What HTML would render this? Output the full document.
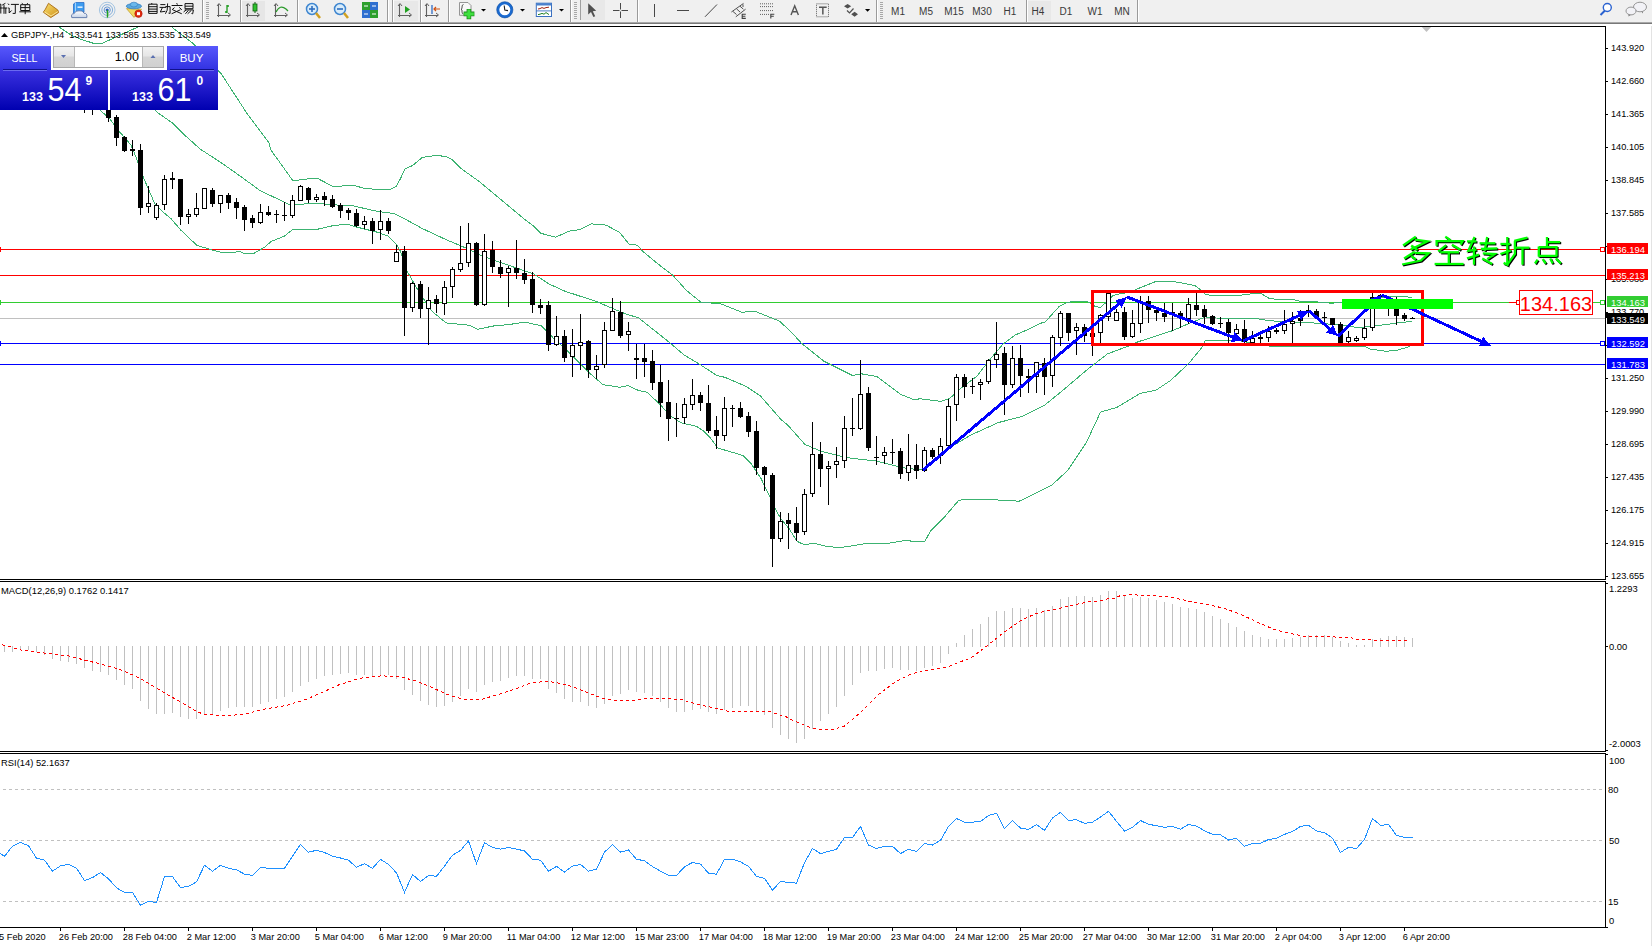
<!DOCTYPE html>
<html><head><meta charset="utf-8"><title>GBPJPY H4</title>
<style>
html,body{margin:0;padding:0;width:1652px;height:946px;overflow:hidden;background:#ffffff;}
svg{display:block;font-family:"Liberation Sans",sans-serif;}
</style></head><body>
<svg width="1652" height="946" viewBox="0 0 1652 946">
<rect x="0" y="0" width="1652" height="946" fill="#ffffff"/>
<g id="toolbar"><rect x="0" y="0" width="1652" height="22" fill="#f0f0f0"/><rect x="0" y="22" width="1652" height="1" fill="#a8a8a8"/><rect x="0" y="23" width="1652" height="1" fill="#787878"/><rect x="0" y="24" width="1652" height="2" fill="#ffffff"/><path d="M0.0,4.0 L1.2,4.6 M0.0,8.0 L2.0,8.0 M0.8,4.5 L0.8,13.5 M5.4,3.3 L2.2,5.1 M4.0,5.1 L4.0,13.8 M2.2,8.0 L7.3,8.0 M5.8,8.0 L5.8,13.8 M8.0,3.6 L9.2,5.0 M8.2,8.0 L9.2,8.0 L9.2,13.0 L11.6,10.5 M10.9,4.4 L18.9,4.4 M15.3,4.4 L15.3,13.4 L12.7,13.4 M21.8,3.3 L23.2,4.4 M28.0,3.3 L26.5,4.4 M20.7,4.7 L29.8,4.7 L29.8,10.5 L20.7,10.5 L20.7,4.7 M20.7,7.6 L29.8,7.6 M25.2,4.7 L25.2,14.2 M19.3,11.8 L30.9,11.8" stroke="#111" stroke-width="1.0" fill="none"/><path d="M152.0,3.0 L151.5,4.2 M148.7,4.2 L157.1,4.2 L157.1,13.4 L148.7,13.4 L148.7,4.2 M148.7,6.7 L157.1,6.7 M148.7,9.1 L157.1,9.1 M148.7,11.4 L157.1,11.4 M160.3,4.6 L165.4,4.6 M159.6,7.4 L166.2,7.4 M162.5,7.4 L160.3,12.0 L165.4,11.3 M165.4,6.6 L170.1,6.6 L170.1,13.4 L168.5,13.1 M167.6,3.4 L167.2,10.2 L165.4,13.8 M176.7,3.1 L177.4,4.7 M171.6,5.5 L182.5,5.5 M174.5,7.6 L172.0,9.8 M179.2,7.3 L181.8,9.8 M172.7,9.8 L181.8,13.8 M180.3,9.8 L171.6,13.8 M185.0,3.6 L193.0,3.6 L193.0,8.7 L185.0,8.7 L185.0,3.6 M185.0,6.2 L193.0,6.2 M184.7,9.9 L193.4,9.9 L192.7,13.8 L191.5,13.5 M186.1,9.9 L183.6,12.0 M188.3,10.5 L185.4,13.8 M191.2,10.5 L187.6,13.8" stroke="#111" stroke-width="1.0" fill="none"/><defs><linearGradient id="gbook" x1="0" y1="0" x2="1" y2="1"><stop offset="0" stop-color="#f8e070"/><stop offset="1" stop-color="#d09018"/></linearGradient><linearGradient id="gcloud" x1="0" y1="0" x2="0" y2="1"><stop offset="0" stop-color="#ffffff"/><stop offset="1" stop-color="#c8d4e8"/></linearGradient></defs><path d="M48.5,3.3 L57.8,10 L58.6,12.6 L50.8,17.6 L43.3,12.2 L45.3,9.3 Z" fill="url(#gbook)" stroke="#a86a12" stroke-width="0.9"/><path d="M44.5,12 L51,16 L58,11.5" fill="none" stroke="#fff0b0" stroke-width="0.8"/><path d="M73.5,4 L75.5,2.5 L84,2.5 L84,12 L73.5,13 Z" fill="#3d9cf0" stroke="#2a6fc8" stroke-width="0.8"/><path d="M75.5,2.5 L75.5,12.5" stroke="#bfe0ff" stroke-width="0.8"/><rect x="77.5" y="6.5" width="5" height="1.3" fill="#ffffff"/><path d="M71.8,17.6 Q70.6,13.6 74.2,13.6 Q75.2,10.3 79,10.8 Q83.2,10 84,13.2 Q87.4,13 86.8,17.6 Z" fill="url(#gcloud)" stroke="#5a74a8" stroke-width="0.9"/><circle cx="107.2" cy="10" r="7.8" fill="none" stroke="#9cc0e0" stroke-width="0.9"/><circle cx="107.2" cy="10" r="5.4" fill="none" stroke="#7aa8d8" stroke-width="0.9"/><circle cx="107.2" cy="10" r="3.1" fill="none" stroke="#5a90d0" stroke-width="0.9"/><path d="M107.2,10 A7.8,7.8 0 0 1 107.2,17.8" fill="none" stroke="#90c890" stroke-width="1.2"/><circle cx="107.2" cy="10" r="1.6" fill="#2a5fc0"/><path d="M107.4,10 L107.4,17.6" stroke="#22a022" stroke-width="1.2"/><path d="M126.5,8.6 L141.5,9.2 L134,17.4 Z" fill="#f2d860" stroke="#c0a030" stroke-width="0.8"/><ellipse cx="133.9" cy="6.2" rx="7.6" ry="2.6" fill="#5aaae0" stroke="#3a80c0" stroke-width="0.8"/><ellipse cx="133.9" cy="4.6" rx="3.6" ry="2.4" fill="#6ab8ec" stroke="#3a80c0" stroke-width="0.7"/><circle cx="138.5" cy="13.7" r="3.7" fill="#e02a10" stroke="#b01808" stroke-width="0.6"/><rect x="137" y="12.2" width="3" height="3" fill="#ffffff"/><rect x="202" y="0" width="1" height="22" fill="#9a9a9a"/><rect x="203" y="0" width="1" height="22" fill="#ffffff"/><rect x="206" y="2" width="3" height="1" fill="#a8a8a8"/><rect x="206" y="4" width="3" height="1" fill="#a8a8a8"/><rect x="206" y="6" width="3" height="1" fill="#a8a8a8"/><rect x="206" y="8" width="3" height="1" fill="#a8a8a8"/><rect x="206" y="10" width="3" height="1" fill="#a8a8a8"/><rect x="206" y="12" width="3" height="1" fill="#a8a8a8"/><rect x="206" y="14" width="3" height="1" fill="#a8a8a8"/><rect x="206" y="16" width="3" height="1" fill="#a8a8a8"/><rect x="206" y="18" width="3" height="1" fill="#a8a8a8"/><path d="M218.5,4 L218.5,17 M217,15.5 L230,15.5" stroke="#606060" stroke-width="1.1" fill="none"/><path d="M217,6 L219,3.5 L221,6 M228,13 L230.5,15 L228,17" stroke="#606060" stroke-width="1" fill="none"/><path d="M227,5 L227,13 M227,6 L229,6 M225,12 L227,12" stroke="#1a9a1a" stroke-width="1.3" fill="none"/><rect x="240" y="0" width="1" height="22" fill="#9a9a9a"/><rect x="241" y="0" width="1" height="22" fill="#ffffff"/><rect x="242" y="1" width="23" height="20" fill="#e6e6e6"/><path d="M247.5,4 L247.5,17 M246,15.5 L259,15.5" stroke="#606060" stroke-width="1.1" fill="none"/><path d="M246,6 L248,3.5 L250,6 M257,13 L259.5,15 L257,17" stroke="#606060" stroke-width="1" fill="none"/><rect x="253" y="4" width="4" height="7" fill="#2ec02e" stroke="#106010" stroke-width="0.8"/><path d="M255,2 L255,4 M255,11 L255,13" stroke="#106010" stroke-width="1"/><path d="M275.5,4 L275.5,17 M274,15.5 L287,15.5" stroke="#606060" stroke-width="1.1" fill="none"/><path d="M274,6 L276,3.5 L278,6 M285,13 L287.5,15 L285,17" stroke="#606060" stroke-width="1" fill="none"/><path d="M276,12 Q280,4 286,9 L288,11" stroke="#2a9a2a" stroke-width="1.3" fill="none"/><rect x="297" y="0" width="1" height="22" fill="#9a9a9a"/><rect x="298" y="0" width="1" height="22" fill="#ffffff"/><circle cx="312" cy="9" r="5.5" fill="#d8ecfa" stroke="#3f86d0" stroke-width="1.5"/><path d="M316,13 L320,18" stroke="#d0a020" stroke-width="2.5"/><path d="M309,9 L315,9" stroke="#2f6fc0" stroke-width="1.6"/><path d="M312,6 L312,12" stroke="#2f6fc0" stroke-width="1.6"/><circle cx="340" cy="9" r="5.5" fill="#d8ecfa" stroke="#3f86d0" stroke-width="1.5"/><path d="M344,13 L348,18" stroke="#d0a020" stroke-width="2.5"/><path d="M337,9 L343,9" stroke="#2f6fc0" stroke-width="1.6"/><rect x="362" y="2" width="8" height="8" fill="#2ea02e"/><rect x="370" y="2" width="8" height="8" fill="#2f6fd0"/><rect x="362" y="10" width="8" height="8" fill="#2f6fd0"/><rect x="370" y="10" width="8" height="8" fill="#2ea02e"/><path d="M364,6 L368,6 M372,6 L376,6 M364,14 L368,14 M372,14 L376,14" stroke="#ffffff" stroke-width="1.2"/><rect x="387" y="0" width="1" height="22" fill="#9a9a9a"/><rect x="388" y="0" width="1" height="22" fill="#ffffff"/><rect x="392" y="0" width="1" height="22" fill="#9a9a9a"/><rect x="393" y="0" width="1" height="22" fill="#ffffff"/><rect x="394" y="1" width="24" height="20" fill="#e8e8e8"/><path d="M399.5,4 L399.5,17 M398,15.5 L411,15.5" stroke="#606060" stroke-width="1.1" fill="none"/><path d="M398,6 L400,3.5 L402,6 M409,13 L411.5,15 L409,17" stroke="#606060" stroke-width="1" fill="none"/><path d="M405,6 L410,9.5 L405,13 Z" fill="#20a020"/><rect x="420" y="0" width="1" height="22" fill="#9a9a9a"/><rect x="421" y="0" width="1" height="22" fill="#ffffff"/><path d="M426.5,4 L426.5,17 M425,15.5 L438,15.5" stroke="#606060" stroke-width="1.1" fill="none"/><path d="M425,6 L427,3.5 L429,6 M436,13 L438.5,15 L436,17" stroke="#606060" stroke-width="1" fill="none"/><path d="M432,5 L432,14" stroke="#2060c0" stroke-width="1.2"/><path d="M440,9 L434,9 M436,7 L434,9 L436,11" stroke="#d05010" stroke-width="1.2" fill="none"/><rect x="448" y="0" width="1" height="22" fill="#9a9a9a"/><rect x="449" y="0" width="1" height="22" fill="#ffffff"/><path d="M459.5,2.5 L468,2.5 L471,5.5 L471,15.3 L459.5,15.3 Z" fill="#f8f8f8" stroke="#8a8a8a" stroke-width="0.9"/><path d="M463.5,4.5 Q462,4.5 462,7 L462,8.5 L461,9.2 L462,10 L462,12 Q462,14 463.5,14" fill="none" stroke="#404040" stroke-width="0.9"/><path d="M468.9,9 L468.9,19.2 M463.6,13.9 L474.4,13.9" stroke="#1c8a1c" stroke-width="4.6"/><path d="M468.9,9.6 L468.9,18.6 M464.2,13.9 L473.8,13.9" stroke="#3ee03e" stroke-width="3"/><path d="M481,9 L486,9 L483.5,11.5 Z" fill="#000"/><circle cx="504.8" cy="9.8" r="6.8" fill="#ffffff" stroke="#1a6ad0" stroke-width="2.6"/><circle cx="504.8" cy="9.8" r="8.1" fill="none" stroke="#0a4aa0" stroke-width="0.6"/><path d="M504.2,5.5 L504.8,10 L508,10.6" stroke="#202020" stroke-width="1.1" fill="none"/><path d="M520,9 L525,9 L522.5,11.5 Z" fill="#000"/><rect x="536.3" y="3.2" width="15.2" height="13.3" fill="#ffffff" stroke="#3a70c0" stroke-width="1"/><rect x="536.3" y="3.2" width="15.2" height="2.3" fill="#4a80cc"/><path d="M536.3,10.9 L551.5,10.9" stroke="#3a70c0" stroke-width="0.9"/><path d="M538,9 L540,8.6 L542,7.6 L544,8.4 L546,7.6 L549,7.2" stroke="#a02010" stroke-width="1" fill="none"/><path d="M538,14.6 L540,14.2 L542,13.4 L544,14.2 L546,12.6 L549,14.6" stroke="#208020" stroke-width="1" fill="none"/><path d="M559,9 L564,9 L561.5,11.5 Z" fill="#000"/><rect x="570" y="0" width="1" height="22" fill="#9a9a9a"/><rect x="571" y="0" width="1" height="22" fill="#ffffff"/><rect x="574" y="2" width="3" height="1" fill="#a8a8a8"/><rect x="574" y="4" width="3" height="1" fill="#a8a8a8"/><rect x="574" y="6" width="3" height="1" fill="#a8a8a8"/><rect x="574" y="8" width="3" height="1" fill="#a8a8a8"/><rect x="574" y="10" width="3" height="1" fill="#a8a8a8"/><rect x="574" y="12" width="3" height="1" fill="#a8a8a8"/><rect x="574" y="14" width="3" height="1" fill="#a8a8a8"/><rect x="574" y="16" width="3" height="1" fill="#a8a8a8"/><rect x="574" y="18" width="3" height="1" fill="#a8a8a8"/><rect x="580" y="0" width="1" height="20" fill="#a0a0a0"/><rect x="581" y="0" width="24" height="20" fill="#e8e8e8"/><path d="M588.2,3.2 L588.2,14.6 L591,12 L593.4,17 L595.2,16.2 L592.8,11.2 L596.2,10.8 Z" fill="#505050"/><path d="M620.5,3 L620.5,9.5 M620.5,11.5 L620.5,18 M613,10.5 L619.5,10.5 M621.5,10.5 L628,10.5" stroke="#484848" stroke-width="1" fill="none"/><rect x="637" y="0" width="1" height="22" fill="#9a9a9a"/><rect x="638" y="0" width="1" height="22" fill="#ffffff"/><path d="M654.5,4 L654.5,17" stroke="#484848" stroke-width="1"/><path d="M677,10.5 L689,10.5" stroke="#484848" stroke-width="1"/><path d="M705,16.8 L717,4.5" stroke="#484848" stroke-width="1"/><path d="M731.4,12 L743.5,3.4 M735.8,16.8 L745.6,9.2" stroke="#505050" stroke-width="1" fill="none"/><path d="M733,11.5 L736.5,14.5 M736.5,8.8 L740,12 M740,6.2 L743.4,9.2 M743,4.4 L743,7" stroke="#505050" stroke-width="1" fill="none"/><path d="M745.8,14.2 L742.2,14.2 L742.2,18.4 L745.8,18.4 M742.2,16.3 L745.4,16.3" stroke="#404040" stroke-width="1.1" fill="none"/><path d="M760,3.8 L773,3.8 M760,6.6 L773,6.6 M760,10.6 L773,10.6 M760,14.4 L769,14.4" stroke="#606060" stroke-width="1" stroke-dasharray="1,1" fill="none"/><path d="M774.3,14.2 L770.8,14.2 L770.8,18.6 M770.8,16.3 L773.8,16.3" stroke="#404040" stroke-width="1.1" fill="none"/><path d="M791,15 L794.7,5.8 L798.4,15 M792.4,11.8 L797,11.8" stroke="#555555" stroke-width="1.4" fill="none"/><rect x="816.5" y="3.8" width="12" height="13" fill="none" stroke="#606060" stroke-width="1" stroke-dasharray="1,1"/><path d="M819,7.3 L826.7,7.3 M822.85,7.3 L822.85,14.5" stroke="#555555" stroke-width="1.5" fill="none"/><path d="M844,6.3 L847.6,4 L851.2,6.3 L847.6,8.6 Z M851.2,14.3 L854.6,11.8 L858,14.3 L854.6,16.8 Z" fill="#505050"/><path d="M847,10.5 L849.5,13 L853.5,8.5" stroke="#505050" stroke-width="1.2" fill="none"/><path d="M865,9 L870.2,9 L867.6,11.8 Z" fill="#000"/><rect x="876" y="0" width="1" height="22" fill="#9a9a9a"/><rect x="877" y="0" width="1" height="22" fill="#ffffff"/><rect x="880" y="2" width="3" height="1" fill="#a8a8a8"/><rect x="880" y="4" width="3" height="1" fill="#a8a8a8"/><rect x="880" y="6" width="3" height="1" fill="#a8a8a8"/><rect x="880" y="8" width="3" height="1" fill="#a8a8a8"/><rect x="880" y="10" width="3" height="1" fill="#a8a8a8"/><rect x="880" y="12" width="3" height="1" fill="#a8a8a8"/><rect x="880" y="14" width="3" height="1" fill="#a8a8a8"/><rect x="880" y="16" width="3" height="1" fill="#a8a8a8"/><rect x="880" y="18" width="3" height="1" fill="#a8a8a8"/><rect x="1026" y="0" width="1" height="22" fill="#9a9a9a"/><rect x="1027" y="0" width="1" height="22" fill="#ffffff"/><rect x="1028" y="1" width="23" height="20" fill="#e8e8e8"/><text x="898" y="15" font-size="10" fill="#3a3a3a" text-anchor="middle" font-family="Liberation Sans">M1</text><text x="926" y="15" font-size="10" fill="#3a3a3a" text-anchor="middle" font-family="Liberation Sans">M5</text><text x="954" y="15" font-size="10" fill="#3a3a3a" text-anchor="middle" font-family="Liberation Sans">M15</text><text x="982" y="15" font-size="10" fill="#3a3a3a" text-anchor="middle" font-family="Liberation Sans">M30</text><text x="1010" y="15" font-size="10" fill="#3a3a3a" text-anchor="middle" font-family="Liberation Sans">H1</text><text x="1038" y="15" font-size="10" fill="#3a3a3a" text-anchor="middle" font-family="Liberation Sans">H4</text><text x="1066" y="15" font-size="10" fill="#3a3a3a" text-anchor="middle" font-family="Liberation Sans">D1</text><text x="1095" y="15" font-size="10" fill="#3a3a3a" text-anchor="middle" font-family="Liberation Sans">W1</text><text x="1122" y="15" font-size="10" fill="#3a3a3a" text-anchor="middle" font-family="Liberation Sans">MN</text><rect x="1137" y="0" width="1" height="22" fill="#9a9a9a"/><rect x="1138" y="0" width="1" height="22" fill="#ffffff"/><circle cx="1607.3" cy="7.5" r="4" fill="#ffffff" stroke="#2a62d0" stroke-width="1.4"/><path d="M1605,10.5 L1600.5,15" stroke="#2a62d0" stroke-width="2"/><path d="M1641,11 L1643,13.5 L1643,10" fill="#707070"/><ellipse cx="1640" cy="7" rx="6.5" ry="4.8" fill="#f2f2f6" stroke="#8a8a8a" stroke-width="0.9"/><path d="M1628.5,13 L1628.5,16.5 L1632,14" fill="#707070"/><ellipse cx="1631" cy="11" rx="5" ry="3.9" fill="#f2f2f6" stroke="#8a8a8a" stroke-width="0.9"/></g>
<g id="frames" shape-rendering="crispEdges"><rect x="0" y="26" width="1606" height="1" fill="#000"/><rect x="1605" y="26" width="1" height="554" fill="#000"/><rect x="0" y="579" width="1606" height="1" fill="#000"/><rect x="0" y="581" width="1606" height="1" fill="#000"/><rect x="1605" y="581" width="1" height="171" fill="#000"/><rect x="0" y="751" width="1606" height="1" fill="#000"/><rect x="0" y="753" width="1606" height="1" fill="#000"/><rect x="1605" y="753" width="1" height="175" fill="#000"/><rect x="0" y="927" width="1606" height="1" fill="#000"/><rect x="1651" y="26" width="1" height="920" fill="#e3e3e3"/><rect x="1606" y="48" width="2" height="1" fill="#000"/><text x="1611" y="51" font-size="9.2" fill="#000">143.920</text><rect x="1606" y="81" width="2" height="1" fill="#000"/><text x="1611" y="84" font-size="9.2" fill="#000">142.660</text><rect x="1606" y="114" width="2" height="1" fill="#000"/><text x="1611" y="117" font-size="9.2" fill="#000">141.365</text><rect x="1606" y="147" width="2" height="1" fill="#000"/><text x="1611" y="150" font-size="9.2" fill="#000">140.105</text><rect x="1606" y="180" width="2" height="1" fill="#000"/><text x="1611" y="183" font-size="9.2" fill="#000">138.845</text><rect x="1606" y="213" width="2" height="1" fill="#000"/><text x="1611" y="216" font-size="9.2" fill="#000">137.585</text><rect x="1606" y="246" width="2" height="1" fill="#000"/><text x="1611" y="249" font-size="9.2" fill="#000">136.325</text><rect x="1606" y="279" width="2" height="1" fill="#000"/><text x="1611" y="282" font-size="9.2" fill="#000">135.030</text><rect x="1606" y="312" width="2" height="1" fill="#000"/><text x="1611" y="315" font-size="9.2" fill="#000">133.770</text><rect x="1606" y="345" width="2" height="1" fill="#000"/><text x="1611" y="348" font-size="9.2" fill="#000">132.510</text><rect x="1606" y="378" width="2" height="1" fill="#000"/><text x="1611" y="381" font-size="9.2" fill="#000">131.250</text><rect x="1606" y="411" width="2" height="1" fill="#000"/><text x="1611" y="414" font-size="9.2" fill="#000">129.990</text><rect x="1606" y="444" width="2" height="1" fill="#000"/><text x="1611" y="447" font-size="9.2" fill="#000">128.695</text><rect x="1606" y="477" width="2" height="1" fill="#000"/><text x="1611" y="480" font-size="9.2" fill="#000">127.435</text><rect x="1606" y="510" width="2" height="1" fill="#000"/><text x="1611" y="513" font-size="9.2" fill="#000">126.175</text><rect x="1606" y="543" width="2" height="1" fill="#000"/><text x="1611" y="546" font-size="9.2" fill="#000">124.915</text><rect x="1606" y="576" width="2" height="1" fill="#000"/><text x="1611" y="579" font-size="9.2" fill="#000">123.655</text><rect x="1606" y="583" width="2" height="1" fill="#000"/><text x="1609" y="591.5" font-size="9.4" fill="#000">1.2293</text><rect x="1606" y="646" width="2" height="1" fill="#000"/><text x="1609" y="649.5" font-size="9.4" fill="#000">0.00</text><rect x="1606" y="750" width="2" height="1" fill="#000"/><text x="1609" y="746.5" font-size="9.4" fill="#000">-2.0003</text><rect x="1606" y="754" width="2" height="1" fill="#000"/><text x="1609" y="763.5" font-size="9.4" fill="#000">100</text><text x="1608" y="792.5" font-size="9.4" fill="#000">80</text><text x="1609" y="844" font-size="9.4" fill="#000">50</text><text x="1608" y="904.5" font-size="9.4" fill="#000">15</text><text x="1609" y="923.5" font-size="9.4" fill="#000">0</text><rect x="1606" y="927" width="2" height="1" fill="#000"/><text x="-6" y="940" font-size="9.2" fill="#000">25 Feb 2020</text><rect x="60" y="928" width="1" height="3" fill="#000"/><text x="58.8" y="940" font-size="9.2" fill="#000">26 Feb 20:00</text><rect x="124" y="928" width="1" height="3" fill="#000"/><text x="122.8" y="940" font-size="9.2" fill="#000">28 Feb 04:00</text><rect x="188" y="928" width="1" height="3" fill="#000"/><text x="186.8" y="940" font-size="9.2" fill="#000">2 Mar 12:00</text><rect x="252" y="928" width="1" height="3" fill="#000"/><text x="250.8" y="940" font-size="9.2" fill="#000">3 Mar 20:00</text><rect x="316" y="928" width="1" height="3" fill="#000"/><text x="314.8" y="940" font-size="9.2" fill="#000">5 Mar 04:00</text><rect x="380" y="928" width="1" height="3" fill="#000"/><text x="378.8" y="940" font-size="9.2" fill="#000">6 Mar 12:00</text><rect x="444" y="928" width="1" height="3" fill="#000"/><text x="442.8" y="940" font-size="9.2" fill="#000">9 Mar 20:00</text><rect x="508" y="928" width="1" height="3" fill="#000"/><text x="506.8" y="940" font-size="9.2" fill="#000">11 Mar 04:00</text><rect x="572" y="928" width="1" height="3" fill="#000"/><text x="570.8" y="940" font-size="9.2" fill="#000">12 Mar 12:00</text><rect x="636" y="928" width="1" height="3" fill="#000"/><text x="634.8" y="940" font-size="9.2" fill="#000">15 Mar 23:00</text><rect x="700" y="928" width="1" height="3" fill="#000"/><text x="698.8" y="940" font-size="9.2" fill="#000">17 Mar 04:00</text><rect x="764" y="928" width="1" height="3" fill="#000"/><text x="762.8" y="940" font-size="9.2" fill="#000">18 Mar 12:00</text><rect x="828" y="928" width="1" height="3" fill="#000"/><text x="826.8" y="940" font-size="9.2" fill="#000">19 Mar 20:00</text><rect x="892" y="928" width="1" height="3" fill="#000"/><text x="890.8" y="940" font-size="9.2" fill="#000">23 Mar 04:00</text><rect x="956" y="928" width="1" height="3" fill="#000"/><text x="954.8" y="940" font-size="9.2" fill="#000">24 Mar 12:00</text><rect x="1020" y="928" width="1" height="3" fill="#000"/><text x="1018.8" y="940" font-size="9.2" fill="#000">25 Mar 20:00</text><rect x="1084" y="928" width="1" height="3" fill="#000"/><text x="1082.8" y="940" font-size="9.2" fill="#000">27 Mar 04:00</text><rect x="1148" y="928" width="1" height="3" fill="#000"/><text x="1146.8" y="940" font-size="9.2" fill="#000">30 Mar 12:00</text><rect x="1212" y="928" width="1" height="3" fill="#000"/><text x="1210.8" y="940" font-size="9.2" fill="#000">31 Mar 20:00</text><rect x="1276" y="928" width="1" height="3" fill="#000"/><text x="1274.8" y="940" font-size="9.2" fill="#000">2 Apr 04:00</text><rect x="1340" y="928" width="1" height="3" fill="#000"/><text x="1338.8" y="940" font-size="9.2" fill="#000">3 Apr 12:00</text><rect x="1404" y="928" width="1" height="3" fill="#000"/><text x="1402.8" y="940" font-size="9.2" fill="#000">6 Apr 20:00</text></g>
<g id="macd"><text x="1" y="594" font-size="9.4" fill="#000">MACD(12,26,9) 0.1762 0.1417</text><rect x="4" y="646" width="1" height="6" fill="#c0c0c0"/><rect x="12" y="646" width="1" height="6" fill="#c0c0c0"/><rect x="20" y="646" width="1" height="4" fill="#c0c0c0"/><rect x="28" y="646" width="1" height="4" fill="#c0c0c0"/><rect x="36" y="646" width="1" height="6" fill="#c0c0c0"/><rect x="44" y="646" width="1" height="9" fill="#c0c0c0"/><rect x="52" y="646" width="1" height="13" fill="#c0c0c0"/><rect x="60" y="646" width="1" height="15" fill="#c0c0c0"/><rect x="68" y="646" width="1" height="16" fill="#c0c0c0"/><rect x="76" y="646" width="1" height="18" fill="#c0c0c0"/><rect x="84" y="646" width="1" height="22" fill="#c0c0c0"/><rect x="92" y="646" width="1" height="25" fill="#c0c0c0"/><rect x="100" y="646" width="1" height="26" fill="#c0c0c0"/><rect x="108" y="646" width="1" height="29" fill="#c0c0c0"/><rect x="116" y="646" width="1" height="34" fill="#c0c0c0"/><rect x="124" y="646" width="1" height="39" fill="#c0c0c0"/><rect x="132" y="646" width="1" height="43" fill="#c0c0c0"/><rect x="140" y="646" width="1" height="55" fill="#c0c0c0"/><rect x="148" y="646" width="1" height="63" fill="#c0c0c0"/><rect x="156" y="646" width="1" height="68" fill="#c0c0c0"/><rect x="164" y="646" width="1" height="68" fill="#c0c0c0"/><rect x="172" y="646" width="1" height="67" fill="#c0c0c0"/><rect x="180" y="646" width="1" height="71" fill="#c0c0c0"/><rect x="188" y="646" width="1" height="73" fill="#c0c0c0"/><rect x="196" y="646" width="1" height="73" fill="#c0c0c0"/><rect x="204" y="646" width="1" height="68" fill="#c0c0c0"/><rect x="212" y="646" width="1" height="68" fill="#c0c0c0"/><rect x="220" y="646" width="1" height="65" fill="#c0c0c0"/><rect x="228" y="646" width="1" height="62" fill="#c0c0c0"/><rect x="236" y="646" width="1" height="61" fill="#c0c0c0"/><rect x="244" y="646" width="1" height="61" fill="#c0c0c0"/><rect x="252" y="646" width="1" height="61" fill="#c0c0c0"/><rect x="260" y="646" width="1" height="58" fill="#c0c0c0"/><rect x="268" y="646" width="1" height="56" fill="#c0c0c0"/><rect x="276" y="646" width="1" height="53" fill="#c0c0c0"/><rect x="284" y="646" width="1" height="51" fill="#c0c0c0"/><rect x="292" y="646" width="1" height="46" fill="#c0c0c0"/><rect x="300" y="646" width="1" height="40" fill="#c0c0c0"/><rect x="308" y="646" width="1" height="36" fill="#c0c0c0"/><rect x="316" y="646" width="1" height="33" fill="#c0c0c0"/><rect x="324" y="646" width="1" height="30" fill="#c0c0c0"/><rect x="332" y="646" width="1" height="29" fill="#c0c0c0"/><rect x="340" y="646" width="1" height="28" fill="#c0c0c0"/><rect x="348" y="646" width="1" height="27" fill="#c0c0c0"/><rect x="356" y="646" width="1" height="29" fill="#c0c0c0"/><rect x="364" y="646" width="1" height="29" fill="#c0c0c0"/><rect x="372" y="646" width="1" height="30" fill="#c0c0c0"/><rect x="380" y="646" width="1" height="29" fill="#c0c0c0"/><rect x="388" y="646" width="1" height="29" fill="#c0c0c0"/><rect x="396" y="646" width="1" height="33" fill="#c0c0c0"/><rect x="404" y="646" width="1" height="44" fill="#c0c0c0"/><rect x="412" y="646" width="1" height="49" fill="#c0c0c0"/><rect x="420" y="646" width="1" height="55" fill="#c0c0c0"/><rect x="428" y="646" width="1" height="59" fill="#c0c0c0"/><rect x="436" y="646" width="1" height="61" fill="#c0c0c0"/><rect x="444" y="646" width="1" height="60" fill="#c0c0c0"/><rect x="452" y="646" width="1" height="56" fill="#c0c0c0"/><rect x="460" y="646" width="1" height="50" fill="#c0c0c0"/><rect x="468" y="646" width="1" height="43" fill="#c0c0c0"/><rect x="476" y="646" width="1" height="46" fill="#c0c0c0"/><rect x="484" y="646" width="1" height="39" fill="#c0c0c0"/><rect x="492" y="646" width="1" height="36" fill="#c0c0c0"/><rect x="500" y="646" width="1" height="35" fill="#c0c0c0"/><rect x="508" y="646" width="1" height="32" fill="#c0c0c0"/><rect x="516" y="646" width="1" height="30" fill="#c0c0c0"/><rect x="524" y="646" width="1" height="30" fill="#c0c0c0"/><rect x="532" y="646" width="1" height="33" fill="#c0c0c0"/><rect x="540" y="646" width="1" height="33" fill="#c0c0c0"/><rect x="548" y="646" width="1" height="43" fill="#c0c0c0"/><rect x="556" y="646" width="1" height="47" fill="#c0c0c0"/><rect x="564" y="646" width="1" height="53" fill="#c0c0c0"/><rect x="572" y="646" width="1" height="56" fill="#c0c0c0"/><rect x="580" y="646" width="1" height="56" fill="#c0c0c0"/><rect x="588" y="646" width="1" height="60" fill="#c0c0c0"/><rect x="596" y="646" width="1" height="62" fill="#c0c0c0"/><rect x="604" y="646" width="1" height="58" fill="#c0c0c0"/><rect x="612" y="646" width="1" height="50" fill="#c0c0c0"/><rect x="620" y="646" width="1" height="48" fill="#c0c0c0"/><rect x="628" y="646" width="1" height="44" fill="#c0c0c0"/><rect x="636" y="646" width="1" height="46" fill="#c0c0c0"/><rect x="644" y="646" width="1" height="47" fill="#c0c0c0"/><rect x="652" y="646" width="1" height="50" fill="#c0c0c0"/><rect x="660" y="646" width="1" height="56" fill="#c0c0c0"/><rect x="668" y="646" width="1" height="62" fill="#c0c0c0"/><rect x="676" y="646" width="1" height="66" fill="#c0c0c0"/><rect x="684" y="646" width="1" height="66" fill="#c0c0c0"/><rect x="692" y="646" width="1" height="64" fill="#c0c0c0"/><rect x="700" y="646" width="1" height="63" fill="#c0c0c0"/><rect x="708" y="646" width="1" height="66" fill="#c0c0c0"/><rect x="716" y="646" width="1" height="68" fill="#c0c0c0"/><rect x="724" y="646" width="1" height="64" fill="#c0c0c0"/><rect x="732" y="646" width="1" height="62" fill="#c0c0c0"/><rect x="740" y="646" width="1" height="60" fill="#c0c0c0"/><rect x="748" y="646" width="1" height="60" fill="#c0c0c0"/><rect x="756" y="646" width="1" height="65" fill="#c0c0c0"/><rect x="764" y="646" width="1" height="69" fill="#c0c0c0"/><rect x="772" y="646" width="1" height="82" fill="#c0c0c0"/><rect x="780" y="646" width="1" height="89" fill="#c0c0c0"/><rect x="788" y="646" width="1" height="93" fill="#c0c0c0"/><rect x="796" y="646" width="1" height="97" fill="#c0c0c0"/><rect x="804" y="646" width="1" height="93" fill="#c0c0c0"/><rect x="812" y="646" width="1" height="83" fill="#c0c0c0"/><rect x="820" y="646" width="1" height="75" fill="#c0c0c0"/><rect x="828" y="646" width="1" height="68" fill="#c0c0c0"/><rect x="836" y="646" width="1" height="61" fill="#c0c0c0"/><rect x="844" y="646" width="1" height="50" fill="#c0c0c0"/><rect x="852" y="646" width="1" height="39" fill="#c0c0c0"/><rect x="860" y="646" width="1" height="27" fill="#c0c0c0"/><rect x="868" y="646" width="1" height="25" fill="#c0c0c0"/><rect x="876" y="646" width="1" height="25" fill="#c0c0c0"/><rect x="884" y="646" width="1" height="23" fill="#c0c0c0"/><rect x="892" y="646" width="1" height="22" fill="#c0c0c0"/><rect x="900" y="646" width="1" height="24" fill="#c0c0c0"/><rect x="908" y="646" width="1" height="24" fill="#c0c0c0"/><rect x="916" y="646" width="1" height="25" fill="#c0c0c0"/><rect x="924" y="646" width="1" height="22" fill="#c0c0c0"/><rect x="932" y="646" width="1" height="20" fill="#c0c0c0"/><rect x="940" y="646" width="1" height="17" fill="#c0c0c0"/><rect x="948" y="646" width="1" height="8" fill="#c0c0c0"/><rect x="956" y="643" width="1" height="4" fill="#c0c0c0"/><rect x="964" y="635" width="1" height="12" fill="#c0c0c0"/><rect x="972" y="629" width="1" height="18" fill="#c0c0c0"/><rect x="980" y="624" width="1" height="23" fill="#c0c0c0"/><rect x="988" y="617" width="1" height="30" fill="#c0c0c0"/><rect x="996" y="611" width="1" height="36" fill="#c0c0c0"/><rect x="1004" y="611" width="1" height="36" fill="#c0c0c0"/><rect x="1012" y="608" width="1" height="39" fill="#c0c0c0"/><rect x="1020" y="608" width="1" height="39" fill="#c0c0c0"/><rect x="1028" y="609" width="1" height="38" fill="#c0c0c0"/><rect x="1036" y="608" width="1" height="39" fill="#c0c0c0"/><rect x="1044" y="610" width="1" height="37" fill="#c0c0c0"/><rect x="1052" y="606" width="1" height="41" fill="#c0c0c0"/><rect x="1060" y="599" width="1" height="48" fill="#c0c0c0"/><rect x="1068" y="597" width="1" height="50" fill="#c0c0c0"/><rect x="1076" y="596" width="1" height="51" fill="#c0c0c0"/><rect x="1084" y="596" width="1" height="51" fill="#c0c0c0"/><rect x="1092" y="597" width="1" height="50" fill="#c0c0c0"/><rect x="1100" y="595" width="1" height="52" fill="#c0c0c0"/><rect x="1108" y="591" width="1" height="56" fill="#c0c0c0"/><rect x="1116" y="591" width="1" height="56" fill="#c0c0c0"/><rect x="1124" y="596" width="1" height="51" fill="#c0c0c0"/><rect x="1132" y="598" width="1" height="49" fill="#c0c0c0"/><rect x="1140" y="597" width="1" height="50" fill="#c0c0c0"/><rect x="1148" y="598" width="1" height="49" fill="#c0c0c0"/><rect x="1156" y="600" width="1" height="47" fill="#c0c0c0"/><rect x="1164" y="602" width="1" height="45" fill="#c0c0c0"/><rect x="1172" y="604" width="1" height="43" fill="#c0c0c0"/><rect x="1180" y="607" width="1" height="40" fill="#c0c0c0"/><rect x="1188" y="608" width="1" height="39" fill="#c0c0c0"/><rect x="1196" y="609" width="1" height="38" fill="#c0c0c0"/><rect x="1204" y="612" width="1" height="35" fill="#c0c0c0"/><rect x="1212" y="616" width="1" height="31" fill="#c0c0c0"/><rect x="1220" y="619" width="1" height="28" fill="#c0c0c0"/><rect x="1228" y="623" width="1" height="24" fill="#c0c0c0"/><rect x="1236" y="627" width="1" height="20" fill="#c0c0c0"/><rect x="1244" y="631" width="1" height="16" fill="#c0c0c0"/><rect x="1252" y="635" width="1" height="12" fill="#c0c0c0"/><rect x="1260" y="637" width="1" height="10" fill="#c0c0c0"/><rect x="1268" y="639" width="1" height="8" fill="#c0c0c0"/><rect x="1276" y="639" width="1" height="8" fill="#c0c0c0"/><rect x="1284" y="639" width="1" height="8" fill="#c0c0c0"/><rect x="1292" y="638" width="1" height="9" fill="#c0c0c0"/><rect x="1300" y="637" width="1" height="10" fill="#c0c0c0"/><rect x="1308" y="635" width="1" height="12" fill="#c0c0c0"/><rect x="1316" y="635" width="1" height="12" fill="#c0c0c0"/><rect x="1324" y="635" width="1" height="12" fill="#c0c0c0"/><rect x="1332" y="637" width="1" height="10" fill="#c0c0c0"/><rect x="1340" y="641" width="1" height="6" fill="#c0c0c0"/><rect x="1348" y="643" width="1" height="4" fill="#c0c0c0"/><rect x="1356" y="645" width="1" height="2" fill="#c0c0c0"/><rect x="1364" y="645" width="1" height="2" fill="#c0c0c0"/><rect x="1372" y="639" width="1" height="8" fill="#c0c0c0"/><rect x="1380" y="638" width="1" height="9" fill="#c0c0c0"/><rect x="1388" y="636" width="1" height="11" fill="#c0c0c0"/><rect x="1396" y="636" width="1" height="11" fill="#c0c0c0"/><rect x="1404" y="637" width="1" height="10" fill="#c0c0c0"/><rect x="1412" y="638" width="1" height="9" fill="#c0c0c0"/><polyline points="2.2,644.9 10.7,646.9 20.8,650.0 34.4,651.7 51.3,653.9 68.3,655.9 85.2,660.2 102.2,664.4 117.4,668.6 136.1,676.3 148.0,683.0 161.5,691.2 178.5,700.8 195.4,711.0 203.9,714.4 229.3,715.8 246.3,713.6 263.2,709.3 280.5,706.4 287.4,705.1 304.4,700.0 321.3,692.9 338.3,685.1 355.2,679.7 363.7,677.6 380.7,675.9 397.6,676.3 414.6,680.5 431.5,687.3 448.5,694.9 465.4,699.7 482.4,699.1 499.3,694.1 516.3,688.5 533.2,682.2 550.5,681.7 562.5,683.9 574.4,687.3 591.3,694.1 604.9,699.1 616.8,700.8 628.6,700.8 642.2,699.1 659.1,698.0 682.9,700.0 693.0,703.0 701.5,705.1 718.5,709.0 730.3,711.9 743.9,711.0 767.6,711.0 777.8,714.4 786.3,716.9 794.7,721.2 803.2,724.6 811.7,728.0 820.5,729.7 832.5,729.5 844.4,726.1 861.3,711.7 878.3,694.7 895.2,682.0 912.2,673.6 929.1,670.2 946.1,667.6 963.0,660.8 971.5,657.5 988.5,644.7 1005.4,631.2 1022.4,619.3 1039.3,612.5 1056.3,609.1 1073.2,604.9 1090.5,601.5 1100.8,600.8 1107.6,598.7 1114.4,598.2 1119.5,596.0 1131.3,594.8 1156.8,595.7 1173.7,597.7 1190.7,601.6 1207.6,604.5 1224.6,608.4 1241.5,614.7 1258.5,622.8 1275.4,629.9 1292.4,633.8 1305.6,636.8 1334.4,636.9 1340.3,637.8 1351.3,637.8 1354.7,639.1 1366.6,639.1 1371.7,640.0 1409.8,640.0" fill="none" stroke="#ff0000" stroke-width="1" stroke-dasharray="3,3" shape-rendering="crispEdges"/></g>
<g id="rsi"><text x="1" y="766" font-size="9.4" fill="#000">RSI(14) 52.1637</text><path d="M3,789.5 L1605,789.5" stroke="#c0c0c0" stroke-width="1" stroke-dasharray="3,3" shape-rendering="crispEdges"/><path d="M3,840.5 L1605,840.5" stroke="#c0c0c0" stroke-width="1" stroke-dasharray="3,3" shape-rendering="crispEdges"/><path d="M3,901.5 L1605,901.5" stroke="#c0c0c0" stroke-width="1" stroke-dasharray="3,3" shape-rendering="crispEdges"/><polyline points="-3.5,851.0 4.5,856.3 12.5,846.1 20.5,842.4 28.5,845.8 36.5,858.1 44.5,860.2 52.5,871.2 60.5,865.8 68.5,864.4 76.5,868.1 84.5,880.5 92.5,877.6 100.5,872.5 108.5,878.8 116.5,887.8 124.5,892.4 132.5,892.4 140.5,905.4 148.5,901.4 156.5,902.5 164.5,876.6 172.5,876.6 180.5,887.6 188.5,886.4 196.5,881.9 204.5,865.3 212.5,871.2 220.5,865.3 228.5,868.3 236.5,869.8 244.5,874.1 252.5,875.4 260.5,867.5 268.5,868.3 276.5,868.3 284.5,868.3 292.5,856.3 300.5,844.4 308.5,852.2 316.5,850.3 324.5,852.5 332.5,856.3 340.5,858.0 348.5,860.2 356.5,867.3 364.5,863.6 372.5,868.3 380.5,859.3 388.5,864.4 396.5,872.9 404.5,892.4 412.5,874.6 420.5,881.4 428.5,875.4 436.5,876.3 444.5,866.1 452.5,855.1 460.5,850.5 468.5,841.0 476.5,863.6 484.5,842.7 492.5,847.5 500.5,849.2 508.5,847.5 516.5,849.2 524.5,850.8 532.5,859.3 540.5,860.2 548.5,871.2 556.5,866.4 564.5,872.0 572.5,866.1 580.5,864.4 588.5,871.2 596.5,869.2 604.5,852.2 612.5,844.4 620.5,852.2 628.5,850.0 636.5,859.3 644.5,860.7 652.5,866.6 660.5,871.2 668.5,875.4 676.5,875.4 684.5,866.9 692.5,862.4 700.5,864.1 708.5,873.2 716.5,874.2 724.5,859.3 732.5,859.3 740.5,861.9 748.5,866.4 756.5,876.3 764.5,878.3 772.5,890.3 780.5,881.4 788.5,882.5 796.5,883.1 804.5,862.7 812.5,848.5 820.5,853.6 828.5,851.4 836.5,849.3 844.5,837.5 852.5,837.5 860.5,826.4 868.5,845.1 876.5,848.5 884.5,846.3 892.5,846.3 900.5,853.6 908.5,849.3 916.5,851.4 924.5,843.4 932.5,845.1 940.5,840.3 948.5,826.4 956.5,818.5 964.5,822.2 972.5,822.2 980.5,821.4 988.5,815.4 996.5,813.4 1004.5,828.6 1012.5,820.5 1020.5,828.1 1028.5,829.5 1036.5,824.7 1044.5,830.3 1052.5,818.0 1060.5,812.4 1068.5,820.5 1076.5,819.7 1084.5,823.4 1092.5,822.2 1100.5,817.1 1108.5,811.2 1116.5,821.4 1124.5,831.0 1132.5,827.3 1140.5,820.5 1148.5,824.4 1156.5,825.6 1164.5,827.3 1172.5,826.4 1180.5,829.3 1188.5,824.4 1196.5,826.1 1204.5,830.7 1212.5,834.4 1220.5,834.9 1228.5,840.0 1236.5,838.3 1244.5,846.3 1252.5,843.4 1260.5,843.4 1268.5,839.5 1276.5,838.3 1284.5,834.4 1292.5,831.5 1300.5,826.4 1308.5,825.3 1316.5,831.0 1324.5,832.7 1332.5,838.1 1340.5,852.5 1348.5,847.3 1356.5,848.5 1364.5,839.4 1372.5,818.5 1380.5,825.4 1388.5,824.4 1396.5,835.4 1404.5,837.3 1412.5,837.3" fill="none" stroke="#1e90ff" stroke-width="1" shape-rendering="crispEdges"/></g>
<defs><clipPath id="cmain"><rect x="0" y="27" width="1605" height="552"/></clipPath></defs><g id="main" clip-path="url(#cmain)"><rect x="0" y="249" width="1605" height="1" fill="#ff0000"/><rect x="0" y="247" width="1" height="5" fill="#ff0000"/><rect x="1600" y="247" width="5" height="5" fill="#ff0000"/><rect x="1601" y="248" width="3" height="3" fill="#ffffff"/><rect x="0" y="275" width="1605" height="1" fill="#ff0000"/><rect x="0" y="302" width="1605" height="1" fill="#32cd32"/><rect x="0" y="300" width="1" height="5" fill="#32cd32"/><rect x="1600" y="300" width="5" height="5" fill="#32cd32"/><rect x="1601" y="301" width="3" height="3" fill="#ffffff"/><rect x="0" y="318" width="1605" height="1" fill="#c0c0c0"/><rect x="0" y="343" width="1605" height="1" fill="#0000ff"/><rect x="0" y="341" width="1" height="5" fill="#0000ff"/><rect x="1600" y="341" width="5" height="5" fill="#0000ff"/><rect x="1601" y="342" width="3" height="3" fill="#ffffff"/><rect x="0" y="364" width="1605" height="1" fill="#0000ff"/><polyline points="58.7,26.7 70.8,34.9 80.5,39.1 93.8,43.4 102.2,43.4 118.0,36.1 138.5,26.7 154.5,10.0 171.3,26.7 193.0,43.4 221.1,73.6 247.5,114.2 268.8,142.5 270.9,150.0 293.1,181.0 302.0,179.4 317.2,178.2 333.0,186.5 354.0,185.3 364.1,188.4 380.5,189.6 390.7,189.3 396.5,186.0 400.5,178.5 405.1,169.0 412.7,165.4 422.3,157.5 435.0,155.5 445.2,156.3 452.2,159.7 461.7,169.0 479.5,181.7 504.9,202.9 525.2,219.8 534.1,226.4 541.1,233.4 555.7,237.2 568.5,231.3 579.9,229.6 591.3,223.9 606.0,225.1 619.4,232.2 629.3,244.4 637.1,245.1 643.8,252.2 657.1,263.3 672.6,275.0 685.9,289.9 701.5,302.8 719.2,303.2 741.5,312.1 755.9,311.7 768.1,316.5 779.2,321.0 790.3,331.0 801.4,343.2 823.6,361.0 852.4,375.4 861.3,373.8 876.8,376.5 900.4,394.2 902.5,395.1 913.6,399.5 920.5,398.8 940.7,401.4 949.7,398.4 960.8,388.4 976.8,376.3 990.9,358.2 1002.9,344.2 1015.0,335.1 1029.0,329.1 1040.5,323.3 1045.3,321.9 1059.5,306.1 1066.2,302.8 1073.8,301.4 1086.2,301.4 1090.9,303.3 1094.7,306.1 1100.5,307.6 1107.1,301.4 1112.8,295.7 1121.4,293.3 1128.0,292.8 1140.5,287.6 1156.3,281.3 1172.7,281.3 1194.5,285.4 1199.9,289.2 1205.4,294.1 1210.8,295.5 1238.0,295.5 1255.5,293.3 1260.9,293.5 1268.6,298.1 1275.1,299.2 1293.6,299.5 1299.1,301.1 1313.2,301.5 1331.8,303.3 1390.6,296.8 1397.1,296.2 1412.4,297.3" fill="none" stroke="#3cb371" stroke-width="1" shape-rendering="crispEdges"/><polyline points="140.5,95.0 156.7,112.0 172.8,123.3 184.0,134.5 200.1,149.0 221.0,162.6 240.5,176.3 260.1,190.6 289.3,204.5 296.9,204.5 314.5,203.3 340.0,205.2 352.7,205.8 378.1,211.5 393.3,213.4 400.5,216.6 406.4,219.8 422.2,228.5 446.0,239.6 465.0,247.6 479.3,254.7 498.3,261.8 533.2,273.7 549.1,284.0 564.9,291.2 590.5,299.6 596.3,301.5 625.1,313.7 638.6,317.9 667.3,340.7 684.3,355.1 701.2,365.3 716.6,375.3 725.1,377.4 746.2,386.4 760.5,396.0 781.4,420.0 787.1,424.4 804.9,444.4 820.4,451.0 847.0,457.7 875.9,461.0 902.5,467.7 920.3,469.9 923.8,469.0 947.0,449.3 970.3,435.3 998.2,422.6 1021.4,416.7 1044.7,405.1 1063.3,390.0 1086.5,370.2 1095.3,363.3 1107.3,354.0 1129.1,345.8 1135.6,342.6 1156.3,336.0 1172.7,330.6 1190.1,323.0 1205.4,317.0 1216.3,318.0 1227.1,318.6 1246.8,318.6 1255.5,318.4 1266.4,320.2 1277.3,321.3 1288.2,321.9 1304.5,322.4 1320.9,323.5 1337.2,324.6 1348.1,326.2 1359.0,327.8 1369.9,326.2 1386.2,324.6 1397.1,322.9 1412.4,321.3" fill="none" stroke="#3cb371" stroke-width="1" shape-rendering="crispEdges"/><polyline points="90.5,100.0 102.1,112.0 110.1,119.2 119.8,132.1 131.0,145.0 137.5,161.0 143.9,178.7 155.1,204.4 161.5,210.8 171.2,218.9 180.8,230.1 196.9,245.4 213.0,250.2 222.6,252.6 240.5,251.8 243.5,253.4 253.8,253.4 263.9,247.7 271.5,241.3 284.2,236.2 293.1,229.3 317.2,229.3 333.7,225.5 347.6,224.2 355.2,226.7 378.1,232.4 388.2,236.2 397.1,245.0 400.5,251.5 406.4,269.8 419.0,292.0 431.7,311.0 446.0,322.9 469.8,325.3 477.7,329.2 493.5,326.0 509.4,324.5 524.5,322.1 541.1,325.7 549.1,333.2 554.0,339.0 564.9,348.2 591.2,374.6 603.1,384.7 620.0,387.3 628.5,385.6 638.6,390.6 647.1,392.3 658.9,403.3 670.7,416.0 680.9,422.8 696.1,426.2 702.9,430.4 709.6,437.1 718.1,448.1 742.7,455.4 751.6,464.3 760.5,477.6 770.5,497.6 775.7,509.5 781.0,519.0 789.0,528.5 797.1,541.4 804.3,544.7 813.8,543.3 827.1,546.6 840.5,547.6 864.8,543.8 889.2,543.1 902.5,540.9 924.9,541.2 930.7,530.7 944.7,516.7 958.6,500.5 965.6,499.3 998.2,500.0 1019.1,501.2 1030.7,495.8 1051.7,485.3 1067.9,470.2 1086.5,442.3 1100.5,412.1 1116.8,407.4 1140.0,393.5 1156.3,390.0 1170.3,380.7 1188.9,363.3 1203.2,345.8 1205.4,340.4 1216.3,340.2 1238.0,340.4 1248.9,342.6 1271.8,346.4 1345.9,346.4 1364.5,346.4 1369.9,349.1 1386.2,351.3 1397.1,350.2 1410.2,346.4" fill="none" stroke="#3cb371" stroke-width="1" shape-rendering="crispEdges"/><rect x="84" y="105" width="1" height="8" fill="#000"/><rect x="82" y="105" width="5" height="1" fill="#000"/><rect x="92" y="105" width="1" height="10" fill="#000"/><rect x="90" y="105" width="5" height="1" fill="#000"/><rect x="108" y="100" width="1" height="22" fill="#000"/><rect x="106" y="108" width="5" height="10" fill="#000"/><rect x="116" y="115" width="1" height="31" fill="#000"/><rect x="114" y="117" width="5" height="21" fill="#000"/><rect x="124" y="136" width="1" height="16" fill="#000"/><rect x="122" y="137" width="5" height="14" fill="#000"/><rect x="132" y="140" width="1" height="16" fill="#000"/><rect x="130" y="149" width="5" height="2" fill="#000"/><rect x="140" y="144" width="1" height="71" fill="#000"/><rect x="138" y="150" width="5" height="58" fill="#000"/><rect x="148" y="186" width="1" height="27" fill="#000"/><rect x="146" y="203" width="5" height="4" fill="#000"/><rect x="147" y="204" width="3" height="2" fill="#fff"/><rect x="156" y="203" width="1" height="17" fill="#000"/><rect x="154" y="205" width="5" height="13" fill="#000"/><rect x="155" y="206" width="3" height="11" fill="#fff"/><rect x="164" y="175" width="1" height="35" fill="#000"/><rect x="162" y="179" width="5" height="26" fill="#000"/><rect x="163" y="180" width="3" height="24" fill="#fff"/><rect x="172" y="172" width="1" height="17" fill="#000"/><rect x="170" y="178" width="5" height="2" fill="#000"/><rect x="180" y="179" width="1" height="46" fill="#000"/><rect x="178" y="179" width="5" height="38" fill="#000"/><rect x="188" y="209" width="1" height="15" fill="#000"/><rect x="186" y="214" width="5" height="3" fill="#000"/><rect x="187" y="215" width="3" height="1" fill="#fff"/><rect x="196" y="193" width="1" height="24" fill="#000"/><rect x="194" y="208" width="5" height="7" fill="#000"/><rect x="195" y="209" width="3" height="5" fill="#fff"/><rect x="204" y="188" width="1" height="21" fill="#000"/><rect x="202" y="188" width="5" height="21" fill="#000"/><rect x="203" y="189" width="3" height="19" fill="#fff"/><rect x="212" y="188" width="1" height="19" fill="#000"/><rect x="210" y="190" width="5" height="14" fill="#000"/><rect x="220" y="195" width="1" height="18" fill="#000"/><rect x="218" y="195" width="5" height="9" fill="#000"/><rect x="219" y="196" width="3" height="7" fill="#fff"/><rect x="228" y="193" width="1" height="16" fill="#000"/><rect x="226" y="195" width="5" height="8" fill="#000"/><rect x="236" y="198" width="1" height="21" fill="#000"/><rect x="234" y="202" width="5" height="6" fill="#000"/><rect x="244" y="205" width="1" height="26" fill="#000"/><rect x="242" y="207" width="5" height="13" fill="#000"/><rect x="252" y="215" width="1" height="13" fill="#000"/><rect x="250" y="218" width="5" height="5" fill="#000"/><rect x="260" y="204" width="1" height="20" fill="#000"/><rect x="258" y="212" width="5" height="11" fill="#000"/><rect x="259" y="213" width="3" height="9" fill="#fff"/><rect x="268" y="206" width="1" height="10" fill="#000"/><rect x="266" y="212" width="5" height="3" fill="#000"/><rect x="276" y="210" width="1" height="13" fill="#000"/><rect x="274" y="214" width="5" height="1" fill="#000"/><rect x="284" y="202" width="1" height="19" fill="#000"/><rect x="282" y="215" width="5" height="1" fill="#000"/><rect x="292" y="195" width="1" height="23" fill="#000"/><rect x="290" y="200" width="5" height="16" fill="#000"/><rect x="291" y="201" width="3" height="14" fill="#fff"/><rect x="300" y="185" width="1" height="16" fill="#000"/><rect x="298" y="186" width="5" height="15" fill="#000"/><rect x="299" y="187" width="3" height="13" fill="#fff"/><rect x="308" y="187" width="1" height="16" fill="#000"/><rect x="306" y="188" width="5" height="12" fill="#000"/><rect x="316" y="194" width="1" height="8" fill="#000"/><rect x="314" y="197" width="5" height="3" fill="#000"/><rect x="315" y="198" width="3" height="1" fill="#fff"/><rect x="324" y="192" width="1" height="14" fill="#000"/><rect x="322" y="196" width="5" height="4" fill="#000"/><rect x="332" y="195" width="1" height="13" fill="#000"/><rect x="330" y="199" width="5" height="8" fill="#000"/><rect x="340" y="203" width="1" height="15" fill="#000"/><rect x="338" y="205" width="5" height="6" fill="#000"/><rect x="348" y="208" width="1" height="12" fill="#000"/><rect x="346" y="210" width="5" height="3" fill="#000"/><rect x="356" y="209" width="1" height="18" fill="#000"/><rect x="354" y="213" width="5" height="13" fill="#000"/><rect x="364" y="216" width="1" height="13" fill="#000"/><rect x="362" y="221" width="5" height="4" fill="#000"/><rect x="363" y="222" width="3" height="2" fill="#fff"/><rect x="372" y="218" width="1" height="26" fill="#000"/><rect x="370" y="221" width="5" height="10" fill="#000"/><rect x="380" y="210" width="1" height="30" fill="#000"/><rect x="378" y="221" width="5" height="9" fill="#000"/><rect x="379" y="222" width="3" height="7" fill="#fff"/><rect x="388" y="218" width="1" height="16" fill="#000"/><rect x="386" y="221" width="5" height="10" fill="#000"/><rect x="396" y="245" width="1" height="17" fill="#000"/><rect x="394" y="252" width="5" height="10" fill="#000"/><rect x="395" y="253" width="3" height="8" fill="#fff"/><rect x="404" y="246" width="1" height="90" fill="#000"/><rect x="402" y="251" width="5" height="57" fill="#000"/><rect x="412" y="282" width="1" height="30" fill="#000"/><rect x="410" y="283" width="5" height="25" fill="#000"/><rect x="411" y="284" width="3" height="23" fill="#fff"/><rect x="420" y="281" width="1" height="37" fill="#000"/><rect x="418" y="284" width="5" height="25" fill="#000"/><rect x="428" y="287" width="1" height="58" fill="#000"/><rect x="426" y="300" width="5" height="9" fill="#000"/><rect x="427" y="301" width="3" height="7" fill="#fff"/><rect x="436" y="295" width="1" height="18" fill="#000"/><rect x="434" y="299" width="5" height="5" fill="#000"/><rect x="444" y="281" width="1" height="34" fill="#000"/><rect x="442" y="287" width="5" height="17" fill="#000"/><rect x="443" y="288" width="3" height="15" fill="#fff"/><rect x="452" y="267" width="1" height="31" fill="#000"/><rect x="450" y="269" width="5" height="18" fill="#000"/><rect x="451" y="270" width="3" height="16" fill="#fff"/><rect x="460" y="226" width="1" height="46" fill="#000"/><rect x="458" y="263" width="5" height="7" fill="#000"/><rect x="459" y="264" width="3" height="5" fill="#fff"/><rect x="468" y="223" width="1" height="44" fill="#000"/><rect x="466" y="243" width="5" height="20" fill="#000"/><rect x="467" y="244" width="3" height="18" fill="#fff"/><rect x="476" y="242" width="1" height="64" fill="#000"/><rect x="474" y="243" width="5" height="62" fill="#000"/><rect x="484" y="234" width="1" height="72" fill="#000"/><rect x="482" y="251" width="5" height="54" fill="#000"/><rect x="483" y="252" width="3" height="52" fill="#fff"/><rect x="492" y="241" width="1" height="32" fill="#000"/><rect x="490" y="250" width="5" height="17" fill="#000"/><rect x="500" y="260" width="1" height="18" fill="#000"/><rect x="498" y="267" width="5" height="7" fill="#000"/><rect x="508" y="266" width="1" height="41" fill="#000"/><rect x="506" y="268" width="5" height="5" fill="#000"/><rect x="507" y="269" width="3" height="3" fill="#fff"/><rect x="516" y="240" width="1" height="39" fill="#000"/><rect x="514" y="268" width="5" height="5" fill="#000"/><rect x="524" y="259" width="1" height="25" fill="#000"/><rect x="522" y="273" width="5" height="7" fill="#000"/><rect x="532" y="272" width="1" height="41" fill="#000"/><rect x="530" y="279" width="5" height="26" fill="#000"/><rect x="540" y="299" width="1" height="15" fill="#000"/><rect x="538" y="305" width="5" height="3" fill="#000"/><rect x="548" y="301" width="1" height="50" fill="#000"/><rect x="546" y="305" width="5" height="40" fill="#000"/><rect x="556" y="316" width="1" height="30" fill="#000"/><rect x="554" y="336" width="5" height="9" fill="#000"/><rect x="555" y="337" width="3" height="7" fill="#fff"/><rect x="564" y="330" width="1" height="32" fill="#000"/><rect x="562" y="336" width="5" height="22" fill="#000"/><rect x="572" y="329" width="1" height="48" fill="#000"/><rect x="570" y="345" width="5" height="12" fill="#000"/><rect x="571" y="346" width="3" height="10" fill="#fff"/><rect x="580" y="314" width="1" height="56" fill="#000"/><rect x="578" y="342" width="5" height="4" fill="#000"/><rect x="579" y="343" width="3" height="2" fill="#fff"/><rect x="588" y="340" width="1" height="38" fill="#000"/><rect x="586" y="341" width="5" height="29" fill="#000"/><rect x="596" y="355" width="1" height="24" fill="#000"/><rect x="594" y="366" width="5" height="4" fill="#000"/><rect x="595" y="367" width="3" height="2" fill="#fff"/><rect x="604" y="322" width="1" height="46" fill="#000"/><rect x="602" y="330" width="5" height="35" fill="#000"/><rect x="603" y="331" width="3" height="33" fill="#fff"/><rect x="612" y="298" width="1" height="33" fill="#000"/><rect x="610" y="311" width="5" height="20" fill="#000"/><rect x="611" y="312" width="3" height="18" fill="#fff"/><rect x="620" y="301" width="1" height="37" fill="#000"/><rect x="618" y="312" width="5" height="24" fill="#000"/><rect x="628" y="322" width="1" height="29" fill="#000"/><rect x="626" y="331" width="5" height="4" fill="#000"/><rect x="627" y="332" width="3" height="2" fill="#fff"/><rect x="636" y="344" width="1" height="35" fill="#000"/><rect x="634" y="358" width="5" height="2" fill="#000"/><rect x="644" y="344" width="1" height="33" fill="#000"/><rect x="642" y="358" width="5" height="4" fill="#000"/><rect x="652" y="350" width="1" height="40" fill="#000"/><rect x="650" y="361" width="5" height="22" fill="#000"/><rect x="660" y="365" width="1" height="52" fill="#000"/><rect x="658" y="382" width="5" height="21" fill="#000"/><rect x="668" y="380" width="1" height="61" fill="#000"/><rect x="666" y="402" width="5" height="17" fill="#000"/><rect x="676" y="403" width="1" height="34" fill="#000"/><rect x="674" y="418" width="5" height="1" fill="#000"/><rect x="684" y="398" width="1" height="26" fill="#000"/><rect x="682" y="404" width="5" height="14" fill="#000"/><rect x="683" y="405" width="3" height="12" fill="#fff"/><rect x="692" y="379" width="1" height="31" fill="#000"/><rect x="690" y="395" width="5" height="10" fill="#000"/><rect x="691" y="396" width="3" height="8" fill="#fff"/><rect x="700" y="392" width="1" height="19" fill="#000"/><rect x="698" y="395" width="5" height="8" fill="#000"/><rect x="708" y="385" width="1" height="48" fill="#000"/><rect x="706" y="403" width="5" height="28" fill="#000"/><rect x="716" y="416" width="1" height="33" fill="#000"/><rect x="714" y="430" width="5" height="6" fill="#000"/><rect x="724" y="397" width="1" height="44" fill="#000"/><rect x="722" y="408" width="5" height="28" fill="#000"/><rect x="723" y="409" width="3" height="26" fill="#fff"/><rect x="732" y="405" width="1" height="22" fill="#000"/><rect x="730" y="408" width="5" height="1" fill="#000"/><rect x="740" y="402" width="1" height="16" fill="#000"/><rect x="738" y="408" width="5" height="9" fill="#000"/><rect x="748" y="412" width="1" height="25" fill="#000"/><rect x="746" y="416" width="5" height="16" fill="#000"/><rect x="756" y="421" width="1" height="54" fill="#000"/><rect x="754" y="431" width="5" height="37" fill="#000"/><rect x="764" y="466" width="1" height="25" fill="#000"/><rect x="762" y="467" width="5" height="8" fill="#000"/><rect x="772" y="473" width="1" height="94" fill="#000"/><rect x="770" y="475" width="5" height="64" fill="#000"/><rect x="780" y="512" width="1" height="30" fill="#000"/><rect x="778" y="521" width="5" height="18" fill="#000"/><rect x="779" y="522" width="3" height="16" fill="#fff"/><rect x="788" y="513" width="1" height="36" fill="#000"/><rect x="786" y="520" width="5" height="4" fill="#000"/><rect x="796" y="507" width="1" height="34" fill="#000"/><rect x="794" y="523" width="5" height="10" fill="#000"/><rect x="804" y="489" width="1" height="46" fill="#000"/><rect x="802" y="494" width="5" height="38" fill="#000"/><rect x="803" y="495" width="3" height="36" fill="#fff"/><rect x="812" y="422" width="1" height="75" fill="#000"/><rect x="810" y="454" width="5" height="40" fill="#000"/><rect x="811" y="455" width="3" height="38" fill="#fff"/><rect x="820" y="442" width="1" height="45" fill="#000"/><rect x="818" y="454" width="5" height="15" fill="#000"/><rect x="828" y="461" width="1" height="44" fill="#000"/><rect x="826" y="466" width="5" height="3" fill="#000"/><rect x="827" y="467" width="3" height="1" fill="#fff"/><rect x="836" y="447" width="1" height="31" fill="#000"/><rect x="834" y="461" width="5" height="4" fill="#000"/><rect x="835" y="462" width="3" height="2" fill="#fff"/><rect x="844" y="416" width="1" height="52" fill="#000"/><rect x="842" y="428" width="5" height="33" fill="#000"/><rect x="843" y="429" width="3" height="31" fill="#fff"/><rect x="852" y="398" width="1" height="38" fill="#000"/><rect x="850" y="428" width="5" height="1" fill="#000"/><rect x="860" y="360" width="1" height="70" fill="#000"/><rect x="858" y="394" width="5" height="35" fill="#000"/><rect x="859" y="395" width="3" height="33" fill="#fff"/><rect x="868" y="387" width="1" height="64" fill="#000"/><rect x="866" y="393" width="5" height="55" fill="#000"/><rect x="876" y="436" width="1" height="29" fill="#000"/><rect x="874" y="457" width="5" height="1" fill="#000"/><rect x="884" y="447" width="1" height="17" fill="#000"/><rect x="882" y="452" width="5" height="4" fill="#000"/><rect x="883" y="453" width="3" height="2" fill="#fff"/><rect x="892" y="439" width="1" height="25" fill="#000"/><rect x="890" y="452" width="5" height="1" fill="#000"/><rect x="900" y="448" width="1" height="31" fill="#000"/><rect x="898" y="451" width="5" height="23" fill="#000"/><rect x="908" y="434" width="1" height="47" fill="#000"/><rect x="906" y="465" width="5" height="8" fill="#000"/><rect x="907" y="466" width="3" height="6" fill="#fff"/><rect x="916" y="444" width="1" height="35" fill="#000"/><rect x="914" y="465" width="5" height="6" fill="#000"/><rect x="924" y="447" width="1" height="25" fill="#000"/><rect x="922" y="450" width="5" height="21" fill="#000"/><rect x="923" y="451" width="3" height="19" fill="#fff"/><rect x="932" y="448" width="1" height="11" fill="#000"/><rect x="930" y="450" width="5" height="7" fill="#000"/><rect x="940" y="438" width="1" height="26" fill="#000"/><rect x="938" y="446" width="5" height="10" fill="#000"/><rect x="939" y="447" width="3" height="8" fill="#fff"/><rect x="948" y="399" width="1" height="47" fill="#000"/><rect x="946" y="406" width="5" height="40" fill="#000"/><rect x="947" y="407" width="3" height="38" fill="#fff"/><rect x="956" y="374" width="1" height="47" fill="#000"/><rect x="954" y="377" width="5" height="28" fill="#000"/><rect x="955" y="378" width="3" height="26" fill="#fff"/><rect x="964" y="374" width="1" height="24" fill="#000"/><rect x="962" y="377" width="5" height="10" fill="#000"/><rect x="972" y="378" width="1" height="16" fill="#000"/><rect x="970" y="386" width="5" height="1" fill="#000"/><rect x="980" y="379" width="1" height="21" fill="#000"/><rect x="978" y="382" width="5" height="3" fill="#000"/><rect x="979" y="383" width="3" height="1" fill="#fff"/><rect x="988" y="359" width="1" height="25" fill="#000"/><rect x="986" y="360" width="5" height="22" fill="#000"/><rect x="987" y="361" width="3" height="20" fill="#fff"/><rect x="996" y="322" width="1" height="46" fill="#000"/><rect x="994" y="354" width="5" height="6" fill="#000"/><rect x="995" y="355" width="3" height="4" fill="#fff"/><rect x="1004" y="347" width="1" height="68" fill="#000"/><rect x="1002" y="353" width="5" height="32" fill="#000"/><rect x="1012" y="346" width="1" height="42" fill="#000"/><rect x="1010" y="358" width="5" height="27" fill="#000"/><rect x="1011" y="359" width="3" height="25" fill="#fff"/><rect x="1020" y="345" width="1" height="52" fill="#000"/><rect x="1018" y="358" width="5" height="18" fill="#000"/><rect x="1028" y="369" width="1" height="24" fill="#000"/><rect x="1026" y="376" width="5" height="2" fill="#000"/><rect x="1036" y="362" width="1" height="31" fill="#000"/><rect x="1034" y="362" width="5" height="15" fill="#000"/><rect x="1035" y="363" width="3" height="13" fill="#fff"/><rect x="1044" y="358" width="1" height="37" fill="#000"/><rect x="1042" y="363" width="5" height="14" fill="#000"/><rect x="1052" y="335" width="1" height="52" fill="#000"/><rect x="1050" y="337" width="5" height="39" fill="#000"/><rect x="1051" y="338" width="3" height="37" fill="#fff"/><rect x="1060" y="311" width="1" height="35" fill="#000"/><rect x="1058" y="313" width="5" height="25" fill="#000"/><rect x="1059" y="314" width="3" height="23" fill="#fff"/><rect x="1068" y="313" width="1" height="28" fill="#000"/><rect x="1066" y="313" width="5" height="20" fill="#000"/><rect x="1076" y="323" width="1" height="32" fill="#000"/><rect x="1074" y="327" width="5" height="4" fill="#000"/><rect x="1075" y="328" width="3" height="2" fill="#fff"/><rect x="1084" y="324" width="1" height="18" fill="#000"/><rect x="1082" y="327" width="5" height="9" fill="#000"/><rect x="1092" y="333" width="1" height="23" fill="#000"/><rect x="1090" y="333" width="5" height="4" fill="#000"/><rect x="1100" y="314" width="1" height="29" fill="#000"/><rect x="1098" y="315" width="5" height="18" fill="#000"/><rect x="1099" y="316" width="3" height="16" fill="#fff"/><rect x="1108" y="293" width="1" height="28" fill="#000"/><rect x="1106" y="293" width="5" height="24" fill="#000"/><rect x="1107" y="294" width="3" height="22" fill="#fff"/><rect x="1116" y="309" width="1" height="12" fill="#000"/><rect x="1114" y="312" width="5" height="9" fill="#000"/><rect x="1115" y="313" width="3" height="7" fill="#fff"/><rect x="1124" y="307" width="1" height="33" fill="#000"/><rect x="1122" y="312" width="5" height="25" fill="#000"/><rect x="1132" y="310" width="1" height="28" fill="#000"/><rect x="1130" y="323" width="5" height="14" fill="#000"/><rect x="1131" y="324" width="3" height="12" fill="#fff"/><rect x="1140" y="296" width="1" height="37" fill="#000"/><rect x="1138" y="301" width="5" height="23" fill="#000"/><rect x="1139" y="302" width="3" height="21" fill="#fff"/><rect x="1148" y="296" width="1" height="27" fill="#000"/><rect x="1146" y="301" width="5" height="9" fill="#000"/><rect x="1156" y="310" width="1" height="11" fill="#000"/><rect x="1154" y="310" width="5" height="3" fill="#000"/><rect x="1164" y="303" width="1" height="19" fill="#000"/><rect x="1162" y="313" width="5" height="4" fill="#000"/><rect x="1172" y="303" width="1" height="28" fill="#000"/><rect x="1170" y="312" width="5" height="1" fill="#000"/><rect x="1180" y="311" width="1" height="17" fill="#000"/><rect x="1178" y="313" width="5" height="4" fill="#000"/><rect x="1188" y="298" width="1" height="26" fill="#000"/><rect x="1186" y="304" width="5" height="15" fill="#000"/><rect x="1187" y="305" width="3" height="13" fill="#fff"/><rect x="1196" y="293" width="1" height="23" fill="#000"/><rect x="1194" y="305" width="5" height="5" fill="#000"/><rect x="1204" y="305" width="1" height="19" fill="#000"/><rect x="1202" y="309" width="5" height="8" fill="#000"/><rect x="1212" y="315" width="1" height="10" fill="#000"/><rect x="1210" y="316" width="5" height="8" fill="#000"/><rect x="1220" y="317" width="1" height="11" fill="#000"/><rect x="1218" y="323" width="5" height="1" fill="#000"/><rect x="1228" y="319" width="1" height="24" fill="#000"/><rect x="1226" y="322" width="5" height="11" fill="#000"/><rect x="1236" y="324" width="1" height="12" fill="#000"/><rect x="1234" y="329" width="5" height="5" fill="#000"/><rect x="1235" y="330" width="3" height="3" fill="#fff"/><rect x="1244" y="320" width="1" height="23" fill="#000"/><rect x="1242" y="329" width="5" height="13" fill="#000"/><rect x="1252" y="331" width="1" height="15" fill="#000"/><rect x="1250" y="338" width="5" height="5" fill="#000"/><rect x="1251" y="339" width="3" height="3" fill="#fff"/><rect x="1260" y="334" width="1" height="12" fill="#000"/><rect x="1258" y="337" width="5" height="2" fill="#000"/><rect x="1268" y="326" width="1" height="16" fill="#000"/><rect x="1266" y="331" width="5" height="7" fill="#000"/><rect x="1267" y="332" width="3" height="5" fill="#fff"/><rect x="1276" y="328" width="1" height="6" fill="#000"/><rect x="1274" y="330" width="5" height="2" fill="#000"/><rect x="1284" y="310" width="1" height="24" fill="#000"/><rect x="1282" y="324" width="5" height="7" fill="#000"/><rect x="1283" y="325" width="3" height="5" fill="#fff"/><rect x="1292" y="312" width="1" height="31" fill="#000"/><rect x="1290" y="321" width="5" height="3" fill="#000"/><rect x="1291" y="322" width="3" height="1" fill="#fff"/><rect x="1300" y="310" width="1" height="16" fill="#000"/><rect x="1298" y="318" width="5" height="3" fill="#000"/><rect x="1308" y="305" width="1" height="12" fill="#000"/><rect x="1306" y="310" width="5" height="3" fill="#000"/><rect x="1307" y="311" width="3" height="1" fill="#fff"/><rect x="1316" y="309" width="1" height="9" fill="#000"/><rect x="1314" y="311" width="5" height="6" fill="#000"/><rect x="1324" y="312" width="1" height="11" fill="#000"/><rect x="1322" y="317" width="5" height="1" fill="#000"/><rect x="1332" y="318" width="1" height="8" fill="#000"/><rect x="1330" y="318" width="5" height="7" fill="#000"/><rect x="1340" y="322" width="1" height="23" fill="#000"/><rect x="1338" y="324" width="5" height="19" fill="#000"/><rect x="1348" y="331" width="1" height="12" fill="#000"/><rect x="1346" y="337" width="5" height="5" fill="#000"/><rect x="1347" y="338" width="3" height="3" fill="#fff"/><rect x="1356" y="336" width="1" height="6" fill="#000"/><rect x="1354" y="338" width="5" height="3" fill="#000"/><rect x="1355" y="339" width="3" height="1" fill="#fff"/><rect x="1364" y="319" width="1" height="21" fill="#000"/><rect x="1362" y="328" width="5" height="10" fill="#000"/><rect x="1363" y="329" width="3" height="8" fill="#fff"/><rect x="1372" y="293" width="1" height="38" fill="#000"/><rect x="1370" y="297" width="5" height="31" fill="#000"/><rect x="1371" y="298" width="3" height="29" fill="#fff"/><rect x="1380" y="294" width="1" height="6" fill="#000"/><rect x="1378" y="295" width="5" height="2" fill="#000"/><rect x="1388" y="300" width="1" height="16" fill="#000"/><rect x="1386" y="301" width="5" height="6" fill="#000"/><rect x="1396" y="297" width="1" height="28" fill="#000"/><rect x="1394" y="301" width="5" height="15" fill="#000"/><rect x="1404" y="313" width="1" height="8" fill="#000"/><rect x="1402" y="315" width="5" height="4" fill="#000"/><rect x="1412" y="317" width="1" height="2" fill="#000"/><rect x="1410" y="318" width="5" height="1" fill="#000"/><rect x="1092.5" y="291.5" width="330" height="53" fill="none" stroke="#ff0000" stroke-width="3"/><path d="M923.0,470.0 L1118.6,304.1" stroke="#0000ff" stroke-width="3" fill="none" shape-rendering="crispEdges"/><path d="M1127.0,297.0 L1121.8,307.9 L1115.4,300.3 Z" fill="#0000ff" shape-rendering="crispEdges"/><path d="M1127.0,297.0 L1232.7,337.1" stroke="#0000ff" stroke-width="3" fill="none" shape-rendering="crispEdges"/><path d="M1243.0,341.0 L1230.9,341.8 L1234.5,332.4 Z" fill="#0000ff" shape-rendering="crispEdges"/><path d="M1243.0,341.0 L1299.0,315.6" stroke="#0000ff" stroke-width="3" fill="none" shape-rendering="crispEdges"/><path d="M1309.0,311.0 L1301.1,320.1 L1296.9,311.0 Z" fill="#0000ff" shape-rendering="crispEdges"/><path d="M1309.0,311.0 L1329.7,328.8" stroke="#0000ff" stroke-width="3" fill="none" shape-rendering="crispEdges"/><path d="M1338.0,336.0 L1326.4,332.6 L1332.9,325.0 Z" fill="#0000ff" shape-rendering="crispEdges"/><path d="M1338.0,336.0 L1374.0,302.5" stroke="#0000ff" stroke-width="3" fill="none" shape-rendering="crispEdges"/><path d="M1382.0,295.0 L1377.4,306.2 L1370.5,298.8 Z" fill="#0000ff" shape-rendering="crispEdges"/><path d="M1382.0,295.0 L1481.0,341.3" stroke="#0000ff" stroke-width="3" fill="none" shape-rendering="crispEdges"/><path d="M1491.0,346.0 L1478.9,345.9 L1483.2,336.8 Z" fill="#0000ff" shape-rendering="crispEdges"/><rect x="1342" y="299" width="111" height="10" fill="#00ff00"/><rect x="1509" y="302" width="10" height="1" fill="#ff0000"/><rect x="1516" y="300" width="4" height="5" fill="#ff0000"/><rect x="1517" y="301" width="2" height="3" fill="#ffffff"/><rect x="1519.5" y="290.5" width="73" height="24" fill="#ffffff" stroke="#ff0000" stroke-width="1"/><text x="1556" y="310.5" font-size="20" fill="#ff0000" text-anchor="middle">134.163</text><path d="M1416.8,237.6 L1404.1,246.5" stroke="#000" stroke-width="2.3" fill="none" stroke-linejoin="miter"/><path d="M1415.8,240.6 L1428.5,242.4 L1411.7,250.5" stroke="#000" stroke-width="2.3" fill="none" stroke-linejoin="miter"/><path d="M1412.2,246.5 L1418.5,251.2" stroke="#000" stroke-width="2.3" fill="none" stroke-linejoin="miter"/><path d="M1415.8,252.8 L1405.1,259.4" stroke="#000" stroke-width="2.3" fill="none" stroke-linejoin="miter"/><path d="M1415.8,253.8 L1429.5,254.4 L1421.9,261.5 L1403.1,265.5" stroke="#000" stroke-width="2.3" fill="none" stroke-linejoin="miter"/><path d="M1412.2,256.9 L1416.8,260.5" stroke="#000" stroke-width="2.3" fill="none" stroke-linejoin="miter"/><path d="M1446.3,237.6 L1451.4,241.1" stroke="#000" stroke-width="2.3" fill="none" stroke-linejoin="miter"/><path d="M1437.6,246.7 L1437.6,242.2 L1463.6,242.2 L1461.5,245.7" stroke="#000" stroke-width="2.3" fill="none" stroke-linejoin="miter"/><path d="M1447.3,246.2 L1439.2,252.3" stroke="#000" stroke-width="2.3" fill="none" stroke-linejoin="miter"/><path d="M1452.9,245.7 L1461.5,250.8" stroke="#000" stroke-width="2.3" fill="none" stroke-linejoin="miter"/><path d="M1441.2,253.3 L1460.0,253.3" stroke="#000" stroke-width="2.3" fill="none" stroke-linejoin="miter"/><path d="M1449.8,253.3 L1449.8,264.0" stroke="#000" stroke-width="2.3" fill="none" stroke-linejoin="miter"/><path d="M1435.6,265.0 L1464.6,265.0" stroke="#000" stroke-width="2.3" fill="none" stroke-linejoin="miter"/><path d="M1468.0,242.4 L1477.5,242.4" stroke="#000" stroke-width="2.3" fill="none" stroke-linejoin="miter"/><path d="M1475.6,238.0 L1469.3,251.9 L1477.5,250.6" stroke="#000" stroke-width="2.3" fill="none" stroke-linejoin="miter"/><path d="M1475.0,247.5 L1475.0,265.7" stroke="#000" stroke-width="2.3" fill="none" stroke-linejoin="miter"/><path d="M1468.0,259.4 L1480.0,255.7" stroke="#000" stroke-width="2.3" fill="none" stroke-linejoin="miter"/><path d="M1480.6,244.3 L1496.4,244.3" stroke="#000" stroke-width="2.3" fill="none" stroke-linejoin="miter"/><path d="M1488.2,238.0 L1485.7,251.9" stroke="#000" stroke-width="2.3" fill="none" stroke-linejoin="miter"/><path d="M1481.9,250.0 L1498.3,249.4" stroke="#000" stroke-width="2.3" fill="none" stroke-linejoin="miter"/><path d="M1483.8,254.4 L1495.7,255.0 L1488.2,260.1" stroke="#000" stroke-width="2.3" fill="none" stroke-linejoin="miter"/><path d="M1483.2,259.4 L1493.2,265.1" stroke="#000" stroke-width="2.3" fill="none" stroke-linejoin="miter"/><path d="M1501.4,245.0 L1511.5,245.0" stroke="#000" stroke-width="2.3" fill="none" stroke-linejoin="miter"/><path d="M1508.3,238.0 L1508.3,265.7 L1504.6,263.9" stroke="#000" stroke-width="2.3" fill="none" stroke-linejoin="miter"/><path d="M1501.4,255.0 L1512.1,251.3" stroke="#000" stroke-width="2.3" fill="none" stroke-linejoin="miter"/><path d="M1528.5,238.7 L1515.3,241.8" stroke="#000" stroke-width="2.3" fill="none" stroke-linejoin="miter"/><path d="M1515.9,241.8 L1515.9,255.0 L1508.3,265.7" stroke="#000" stroke-width="2.3" fill="none" stroke-linejoin="miter"/><path d="M1516.5,248.7 L1530.4,248.7" stroke="#000" stroke-width="2.3" fill="none" stroke-linejoin="miter"/><path d="M1523.5,248.7 L1523.5,265.7" stroke="#000" stroke-width="2.3" fill="none" stroke-linejoin="miter"/><path d="M1548.0,238.0 L1548.0,247.5" stroke="#000" stroke-width="2.3" fill="none" stroke-linejoin="miter"/><path d="M1548.0,243.1 L1561.2,243.1" stroke="#000" stroke-width="2.3" fill="none" stroke-linejoin="miter"/><path d="M1539.8,247.5 L1539.8,257.6" stroke="#000" stroke-width="2.3" fill="none" stroke-linejoin="miter"/><path d="M1539.8,248.1 L1557.5,248.1 L1557.5,257.6" stroke="#000" stroke-width="2.3" fill="none" stroke-linejoin="miter"/><path d="M1539.8,256.9 L1557.5,256.9" stroke="#000" stroke-width="2.3" fill="none" stroke-linejoin="miter"/><path d="M1538.6,260.7 L1536.0,264.5" stroke="#000" stroke-width="2.3" fill="none" stroke-linejoin="miter"/><path d="M1543.6,260.1 L1546.8,264.5" stroke="#000" stroke-width="2.3" fill="none" stroke-linejoin="miter"/><path d="M1551.2,259.4 L1553.7,264.5" stroke="#000" stroke-width="2.3" fill="none" stroke-linejoin="miter"/><path d="M1556.8,259.4 L1561.9,264.5" stroke="#000" stroke-width="2.3" fill="none" stroke-linejoin="miter"/><path d="M1415.8,236.6 L1403.1,245.5" stroke="#00ff00" stroke-width="2.3" fill="none" stroke-linejoin="miter"/><path d="M1414.8,239.6 L1427.5,241.4 L1410.7,249.5" stroke="#00ff00" stroke-width="2.3" fill="none" stroke-linejoin="miter"/><path d="M1411.2,245.5 L1417.5,250.2" stroke="#00ff00" stroke-width="2.3" fill="none" stroke-linejoin="miter"/><path d="M1414.8,251.8 L1404.1,258.4" stroke="#00ff00" stroke-width="2.3" fill="none" stroke-linejoin="miter"/><path d="M1414.8,252.8 L1428.5,253.4 L1420.9,260.5 L1402.1,264.5" stroke="#00ff00" stroke-width="2.3" fill="none" stroke-linejoin="miter"/><path d="M1411.2,255.9 L1415.8,259.5" stroke="#00ff00" stroke-width="2.3" fill="none" stroke-linejoin="miter"/><path d="M1445.3,236.6 L1450.4,240.1" stroke="#00ff00" stroke-width="2.3" fill="none" stroke-linejoin="miter"/><path d="M1436.6,245.7 L1436.6,241.2 L1462.6,241.2 L1460.5,244.7" stroke="#00ff00" stroke-width="2.3" fill="none" stroke-linejoin="miter"/><path d="M1446.3,245.2 L1438.2,251.3" stroke="#00ff00" stroke-width="2.3" fill="none" stroke-linejoin="miter"/><path d="M1451.9,244.7 L1460.5,249.8" stroke="#00ff00" stroke-width="2.3" fill="none" stroke-linejoin="miter"/><path d="M1440.2,252.3 L1459.0,252.3" stroke="#00ff00" stroke-width="2.3" fill="none" stroke-linejoin="miter"/><path d="M1448.8,252.3 L1448.8,263.0" stroke="#00ff00" stroke-width="2.3" fill="none" stroke-linejoin="miter"/><path d="M1434.6,264.0 L1463.6,264.0" stroke="#00ff00" stroke-width="2.3" fill="none" stroke-linejoin="miter"/><path d="M1467.0,241.4 L1476.5,241.4" stroke="#00ff00" stroke-width="2.3" fill="none" stroke-linejoin="miter"/><path d="M1474.6,237.0 L1468.3,250.9 L1476.5,249.6" stroke="#00ff00" stroke-width="2.3" fill="none" stroke-linejoin="miter"/><path d="M1474.0,246.5 L1474.0,264.7" stroke="#00ff00" stroke-width="2.3" fill="none" stroke-linejoin="miter"/><path d="M1467.0,258.4 L1479.0,254.7" stroke="#00ff00" stroke-width="2.3" fill="none" stroke-linejoin="miter"/><path d="M1479.6,243.3 L1495.4,243.3" stroke="#00ff00" stroke-width="2.3" fill="none" stroke-linejoin="miter"/><path d="M1487.2,237.0 L1484.7,250.9" stroke="#00ff00" stroke-width="2.3" fill="none" stroke-linejoin="miter"/><path d="M1480.9,249.0 L1497.3,248.4" stroke="#00ff00" stroke-width="2.3" fill="none" stroke-linejoin="miter"/><path d="M1482.8,253.4 L1494.7,254.0 L1487.2,259.1" stroke="#00ff00" stroke-width="2.3" fill="none" stroke-linejoin="miter"/><path d="M1482.2,258.4 L1492.2,264.1" stroke="#00ff00" stroke-width="2.3" fill="none" stroke-linejoin="miter"/><path d="M1500.4,244.0 L1510.5,244.0" stroke="#00ff00" stroke-width="2.3" fill="none" stroke-linejoin="miter"/><path d="M1507.3,237.0 L1507.3,264.7 L1503.6,262.9" stroke="#00ff00" stroke-width="2.3" fill="none" stroke-linejoin="miter"/><path d="M1500.4,254.0 L1511.1,250.3" stroke="#00ff00" stroke-width="2.3" fill="none" stroke-linejoin="miter"/><path d="M1527.5,237.7 L1514.3,240.8" stroke="#00ff00" stroke-width="2.3" fill="none" stroke-linejoin="miter"/><path d="M1514.9,240.8 L1514.9,254.0 L1507.3,264.7" stroke="#00ff00" stroke-width="2.3" fill="none" stroke-linejoin="miter"/><path d="M1515.5,247.7 L1529.4,247.7" stroke="#00ff00" stroke-width="2.3" fill="none" stroke-linejoin="miter"/><path d="M1522.5,247.7 L1522.5,264.7" stroke="#00ff00" stroke-width="2.3" fill="none" stroke-linejoin="miter"/><path d="M1547.0,237.0 L1547.0,246.5" stroke="#00ff00" stroke-width="2.3" fill="none" stroke-linejoin="miter"/><path d="M1547.0,242.1 L1560.2,242.1" stroke="#00ff00" stroke-width="2.3" fill="none" stroke-linejoin="miter"/><path d="M1538.8,246.5 L1538.8,256.6" stroke="#00ff00" stroke-width="2.3" fill="none" stroke-linejoin="miter"/><path d="M1538.8,247.1 L1556.5,247.1 L1556.5,256.6" stroke="#00ff00" stroke-width="2.3" fill="none" stroke-linejoin="miter"/><path d="M1538.8,255.9 L1556.5,255.9" stroke="#00ff00" stroke-width="2.3" fill="none" stroke-linejoin="miter"/><path d="M1537.6,259.7 L1535.0,263.5" stroke="#00ff00" stroke-width="2.3" fill="none" stroke-linejoin="miter"/><path d="M1542.6,259.1 L1545.8,263.5" stroke="#00ff00" stroke-width="2.3" fill="none" stroke-linejoin="miter"/><path d="M1550.2,258.4 L1552.7,263.5" stroke="#00ff00" stroke-width="2.3" fill="none" stroke-linejoin="miter"/><path d="M1555.8,258.4 L1560.9,263.5" stroke="#00ff00" stroke-width="2.3" fill="none" stroke-linejoin="miter"/><path d="M1421.8,27 L1431.2,27 L1426.5,32 Z" fill="#c0c0c0"/><path d="M1,37 L4.5,33 L8,37 Z" fill="#000"/><text x="11" y="38" font-size="9.6" fill="#000" textLength="200" lengthAdjust="spacingAndGlyphs" xml:space="preserve">GBPJPY-,H4  133.541 133.585 133.535 133.549</text></g>
<g id="axl"><rect x="1607" y="243" width="41" height="11" fill="#ff0000"/><text x="1611" y="252.5" font-size="9.4" fill="#fff">136.194</text><rect x="1607" y="269" width="41" height="11" fill="#ff0000"/><text x="1611" y="278.5" font-size="9.4" fill="#fff">135.213</text><rect x="1607" y="296" width="41" height="11" fill="#32cd32"/><text x="1611" y="305.5" font-size="9.4" fill="#fff">134.163</text><rect x="1607" y="313" width="41" height="11" fill="#000000"/><text x="1611" y="322.5" font-size="9.4" fill="#fff">133.549</text><rect x="1607" y="337" width="41" height="11" fill="#0000ff"/><text x="1611" y="346.5" font-size="9.4" fill="#fff">132.592</text><rect x="1607" y="358" width="41" height="11" fill="#0000ff"/><text x="1611" y="367.5" font-size="9.4" fill="#fff">131.783</text><rect x="1605" y="312" width="2" height="6" fill="#000"/></g>
<g id="panel"><defs><linearGradient id="gbtn" x1="0" y1="0" x2="0" y2="1"><stop offset="0" stop-color="#5858fc"/><stop offset="1" stop-color="#3030e0"/></linearGradient><linearGradient id="gprice" x1="0" y1="0" x2="0" y2="1"><stop offset="0" stop-color="#3a30e0"/><stop offset="1" stop-color="#0000b0"/></linearGradient><linearGradient id="gspin" x1="0" y1="0" x2="0" y2="1"><stop offset="0" stop-color="#f2f2f2"/><stop offset="0.45" stop-color="#e6e6e6"/><stop offset="0.5" stop-color="#d6d6d6"/><stop offset="1" stop-color="#d0d0d0"/></linearGradient></defs><rect x="0" y="46" width="218" height="64" fill="#ffffff"/><rect x="0" y="46" width="51" height="25" fill="url(#gbtn)"/><rect x="167" y="46" width="51" height="25" fill="url(#gbtn)"/><rect x="0" y="70" width="108" height="40" fill="url(#gprice)"/><rect x="110" y="70" width="108" height="40" fill="url(#gprice)"/><rect x="3" y="69" width="44" height="1" fill="#10108a"/><rect x="3" y="70" width="44" height="1" fill="#6a6af0"/><rect x="170" y="69" width="44" height="1" fill="#10108a"/><rect x="170" y="70" width="44" height="1" fill="#6a6af0"/><text x="11.5" y="61.5" font-size="11.5" fill="#ffffff" textLength="26" lengthAdjust="spacingAndGlyphs">SELL</text><text x="191.5" y="61.5" font-size="11.5" fill="#ffffff" text-anchor="middle">BUY</text><rect x="53.5" y="46.5" width="110" height="21" fill="#ffffff" stroke="#a8a8a8" stroke-width="1"/><rect x="54" y="47" width="20" height="20" fill="url(#gspin)"/><rect x="74" y="47" width="1" height="20" fill="#b8b8b8"/><rect x="143" y="47" width="20" height="20" fill="url(#gspin)"/><rect x="142" y="47" width="1" height="20" fill="#b8b8b8"/><path d="M61,55 L66,55 L63.5,58 Z" fill="#5a70b0"/><path d="M150.5,58 L155.5,58 L153,55 Z" fill="#5a70b0"/><text x="139" y="61" font-size="12.5" fill="#000" text-anchor="end">1.00</text><text x="22" y="101" font-size="12.5" font-weight="bold" fill="#fff">133</text><text x="47.5" y="101" font-size="34" fill="#fff" textLength="34" lengthAdjust="spacingAndGlyphs">54</text><text x="85.5" y="85" font-size="12" font-weight="bold" fill="#fff">9</text><text x="132" y="101" font-size="12.5" font-weight="bold" fill="#fff">133</text><text x="157.5" y="101" font-size="34" fill="#fff" textLength="34" lengthAdjust="spacingAndGlyphs">61</text><text x="196.5" y="85" font-size="12" font-weight="bold" fill="#fff">0</text></g>
</svg>
</body></html>
